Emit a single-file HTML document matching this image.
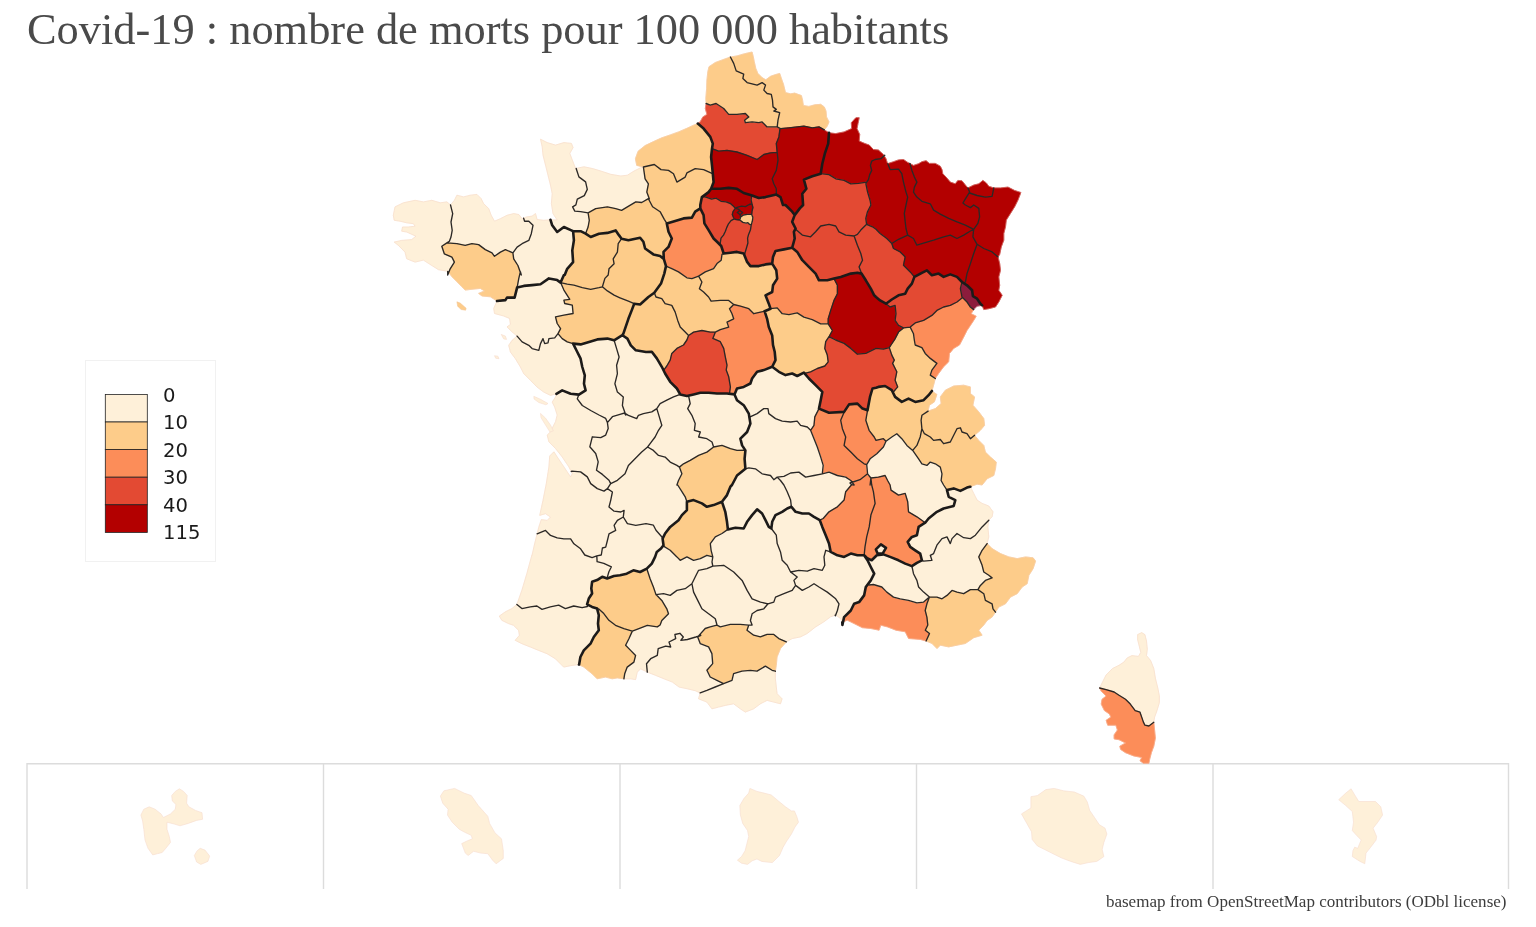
<!DOCTYPE html>
<html lang="fr"><head><meta charset="utf-8"><title>Covid-19 : nombre de morts pour 100 000 habitants</title>
<style>
html,body{margin:0;padding:0;background:#fff;}
body{width:1536px;height:927px;position:relative;overflow:hidden;font-family:"Liberation Serif",serif;}
h1{position:absolute;left:27px;top:4px;margin:0;font-weight:normal;font-size:44.4px;line-height:50px;color:#4a4a4a;white-space:nowrap;}
#map{position:absolute;left:0;top:0;}
.src{position:absolute;right:29.5px;top:892px;font-size:17.05px;line-height:20px;color:#3c3c3c;white-space:nowrap;}
</style></head><body>
<svg id="map" width="1536" height="927" viewBox="0 0 1536 927">
<g id="insets" fill="none" stroke="#dcdcdc" stroke-width="1.4">
<path d="M27,889V763.7H1508.5V889M323.5,763.7V889M620,763.7V889M916.5,763.7V889M1213,763.7V889"/>
</g>
<path d="M450.5,204.9 446.9,201.9 440.2,202.8 431.8,200.3 423.4,201.9 415.1,200.3 403.4,202.8 395.0,206.9 393.3,215.3 394.2,220.3 400.0,221.2 406.7,222.8 413.4,223.7 415.1,226.2 408.4,227.0 402.5,227.0 401.7,231.2 406.7,232.0 415.9,236.2 411.7,239.6 401.7,240.4 394.2,242.1 398.4,245.4 405.0,252.1 406.7,258.8 415.1,262.1 423.4,260.1 431.8,265.5 438.5,269.7 447.7,271.3 447.7,271.4 448.7,272.6 450.2,268.8 454.4,262.1 451.9,257.1 444.3,253.8 441.8,246.2 446.9,242.9 449.4,241.2 451.0,237.0 452.2,230.4 451.0,222.0 452.7,213.6Z" fill="#fef0d9" stroke="#fef0d9" stroke-width="0.8"/>
<path d="M523.6,218.1 522.1,218.7 518.8,214.5 513.7,213.6 507.0,215.3 500.4,218.7 494.5,221.2 491.2,215.3 488.7,208.6 483.6,203.6 481.1,198.6 476.9,194.4 470.3,195.2 463.6,196.9 456.9,195.2 454.4,200.3 450.5,204.9 452.7,213.6 451.0,222.0 452.2,230.4 451.0,237.0 449.4,241.2 446.9,242.9 456.9,243.7 465.2,245.4 471.9,243.7 478.6,244.6 485.3,249.6 492.0,252.9 494.5,256.3 500.4,252.1 505.4,249.6 512.9,252.9 517.1,247.1 522.1,243.7 528.8,240.4 531.3,233.7 533.0,225.3 528.8,221.2 524.6,221.2 523.8,218.7Z" fill="#fef0d9" stroke="#fef0d9" stroke-width="0.8"/>
<path d="M550.5,219.8 543.8,220.3 537.1,219.5 535.5,213.6 532.1,216.1 526.3,217.0 523.6,218.1 523.8,218.7 524.6,221.2 528.8,221.2 533.0,225.3 531.3,233.7 528.8,240.4 522.1,243.7 517.1,247.1 512.9,252.9 513.7,258.8 517.9,265.5 520.3,272.2 518.8,278.4 517.1,287.6 523.8,285.9 532.1,285.1 540.5,284.2 548.9,278.4 557.2,280.1 560.6,282.6 563.9,275.0 564.7,275.0 567.2,268.8 573.1,262.1 572.3,250.4 573.9,240.4 573.1,231.2 571.4,230.4 563.9,227.0 557.2,232.0 552.2,225.3Z" fill="#fef0d9" stroke="#fef0d9" stroke-width="0.8"/>
<path d="M576.2,168.4 575.6,168.5 572.3,160.1 569.8,153.4 573.1,147.6 571.4,143.4 563.9,142.6 555.5,145.1 547.2,142.6 540.5,139.2 542.2,146.8 543.0,155.1 545.5,165.1 548.0,175.2 550.5,185.2 552.2,193.6 551.4,203.6 553.0,213.6 557.2,220.0 550.5,219.8 552.2,225.3 557.2,232.0 563.9,227.0 571.4,230.4 573.1,231.2 580.6,231.2 585.5,233.6 585.6,233.4 588.1,227.0 589.3,220.3 588.1,212.8 580.6,211.6 574.8,211.1 572.6,206.9 575.9,204.9 577.3,199.1 584.3,195.6 587.3,189.4 585.6,181.9 578.9,176.9 576.4,169.3Z" fill="#fef0d9" stroke="#fef0d9" stroke-width="0.8"/>
<path d="M643.4,167.0 640.8,167.7 634.1,171.0 627.4,175.2 620.8,176.0 610.7,174.3 600.7,171.0 592.3,168.5 584.0,166.8 576.2,168.4 576.4,169.3 578.9,176.9 585.6,181.9 587.3,189.4 584.3,195.6 577.3,199.1 575.9,204.9 572.6,206.9 574.8,211.1 580.6,211.6 588.1,212.8 595.7,208.6 607.4,206.9 615.7,208.6 621.6,210.3 627.4,206.9 635.8,201.9 641.7,202.5 648.4,198.7 649.1,198.3 646.8,192.1 648.4,183.8 645.1,178.8Z" fill="#fef0d9" stroke="#fef0d9" stroke-width="0.8"/>
<path d="M697.8,123.6 693.6,125.2 686.9,128.3 678.5,131.9 670.2,134.9 661.8,137.8 653.4,141.6 645.1,145.6 638.1,151.2 635.4,158.7 636.7,165.4 643.4,167.0 654.3,164.5 661.0,169.6 668.5,170.4 673.5,173.7 676.9,182.1 685.2,177.1 686.9,172.9 695.2,168.7 703.6,169.6 712.5,173.7 712.8,173.7 712.0,165.4 711.1,157.0 712.0,148.7 712.8,143.6 710.3,136.9 703.6,128.6Z" fill="#fdcc8a" stroke="#fdcc8a" stroke-width="0.8"/>
<path d="M706.1,103.5 705.3,108.5 706.9,114.4 702.8,116.9 700.3,121.6 697.8,123.6 703.6,128.6 710.3,136.9 712.8,143.6 712.0,148.7 718.7,151.2 727.0,150.3 737.0,152.0 747.1,155.3 757.1,159.5 763.8,154.5 770.5,152.8 777.2,152.3 776.3,143.6 778.9,136.9 780.0,128.6 780.1,128.4 777.2,126.9 767.1,126.9 762.1,121.9 758.8,122.7 752.1,121.9 745.4,122.7 744.6,120.2 748.8,116.9 745.4,113.5 737.0,114.4 728.7,114.4 723.7,108.5 716.1,103.5 710.3,105.2Z" fill="#e34a33" stroke="#e34a33" stroke-width="0.8"/>
<path d="M730.4,57.0 722.8,59.7 715.3,62.5 709.0,66.7 707.8,71.7 706.9,80.1 706.6,88.5 705.8,98.5 706.1,103.5 710.3,105.2 716.1,103.5 723.7,108.5 728.7,114.4 737.0,114.4 745.4,113.5 748.8,116.9 744.6,120.2 745.4,122.7 752.1,121.9 758.8,122.7 762.1,121.9 767.1,126.9 777.2,126.9 778.0,120.2 779.7,112.7 773.8,111.0 776.3,109.4 773.0,106.9 772.5,100.2 771.3,94.3 767.1,93.5 763.8,90.1 765.5,85.1 762.1,82.6 757.1,85.1 747.1,82.6 742.9,78.4 743.7,74.2 736.2,70.9 733.7,63.4Z" fill="#fdcc8a" stroke="#fdcc8a" stroke-width="0.8"/>
<path d="M824.3,129.9 827.3,126.1 829.0,121.9 826.5,116.9 826.0,111.0 824.3,106.9 820.7,104.3 814.8,104.8 808.9,106.4 803.4,105.5 802.6,100.2 801.4,95.5 794.7,93.1 790.6,93.8 785.5,92.6 783.5,84.3 781.4,78.4 779.7,73.4 775.5,74.6 770.5,76.3 765.8,79.8 762.1,77.6 757.9,73.4 755.8,68.4 754.3,61.7 753.3,56.7 752.1,52.0 744.6,53.7 737.0,55.9 730.4,57.0 733.7,63.4 736.2,70.9 743.7,74.2 742.9,78.4 747.1,82.6 757.1,85.1 762.1,82.6 765.5,85.1 763.8,90.1 767.1,93.5 771.3,94.3 772.5,100.2 773.0,106.9 776.3,109.4 773.8,111.0 779.7,112.7 778.0,120.2 777.2,126.9 780.1,128.4 780.5,128.6 788.9,127.8 797.2,126.9 803.9,126.1 812.3,127.8 819.0,126.9Z" fill="#fdcc8a" stroke="#fdcc8a" stroke-width="0.8"/>
<path d="M829.0,132.8 824.3,129.9 819.0,126.9 812.3,127.8 803.9,126.1 797.2,126.9 788.9,127.8 780.5,128.6 780.1,128.4 780.0,128.6 778.9,136.9 776.3,143.6 777.2,152.3 778.0,160.4 776.3,170.4 772.2,178.8 773.8,183.8 776.3,188.8 776.3,194.1 776.3,194.6 780.5,197.1 783.0,205.0 785.5,205.0 792.2,211.7 794.7,215.1 799.8,208.4 803.1,205.0 802.3,193.8 806.4,188.8 803.9,179.6 812.3,176.2 820.7,173.7 822.3,163.7 824.8,153.7 828.2,143.6Z" fill="#b30000" stroke="#b30000" stroke-width="0.8"/>
<path d="M884.1,155.7 883.4,154.5 878.4,150.0 873.4,149.5 869.2,145.0 865.0,143.6 859.2,141.1 859.7,134.4 857.0,128.6 858.0,123.6 859.2,117.7 855.9,117.7 851.3,122.7 851.6,128.6 844.1,131.9 835.7,133.6 829.0,132.8 828.2,143.6 824.8,153.7 822.3,163.7 820.7,173.7 829.0,174.6 835.7,178.8 844.1,180.4 850.8,183.8 858.4,183.4 866.7,182.1 868.4,179.6 869.7,174.6 871.7,170.4 870.4,165.4 871.7,161.2 875.1,159.5 880.9,158.7 884.2,155.8Z" fill="#b30000" stroke="#b30000" stroke-width="0.8"/>
<path d="M887.8,163.6 887.6,163.7 886.0,158.7 884.2,155.8 880.9,158.7 875.1,159.5 871.7,161.2 870.4,165.4 871.7,170.4 869.7,174.6 868.4,179.6 866.7,182.1 865.9,183.8 867.6,192.1 870.1,200.5 870.9,205.0 867.5,211.7 865.8,218.4 866.6,224.3 867.6,224.3 867.4,224.7 867.4,224.7 872.5,226.8 876.0,229.3 880.1,233.5 886.8,238.5 891.8,243.5 898.5,239.3 907.7,235.1 906.0,228.5 905.2,221.8 904.3,213.4 906.0,205.0 907.7,197.1 906.0,192.1 903.5,182.1 901.8,173.7 898.5,169.1 890.1,169.6 888.1,164.5 887.8,163.6Z" fill="#b30000" stroke="#b30000" stroke-width="0.8"/>
<path d="M909.8,163.5 907.7,162.4 903.5,159.5 898.5,159.9 893.5,161.7 887.8,163.6 887.8,163.6 888.1,164.5 890.1,169.6 898.5,169.1 901.8,173.7 903.5,182.1 906.0,192.1 907.7,197.1 906.0,205.0 904.3,213.4 905.2,221.8 906.0,228.5 907.7,235.1 913.5,238.5 916.9,245.2 925.2,242.7 933.6,240.2 943.6,236.8 950.3,235.1 957.0,238.5 963.7,235.1 970.4,231.0 973.7,229.3 965.4,225.1 957.0,221.8 948.7,218.4 940.3,214.2 933.6,210.1 930.3,203.8 921.9,201.3 916.9,197.1 913.5,192.1 914.4,187.1 916.9,182.1 914.4,177.1 911.9,170.4 909.9,163.6Z" fill="#b30000" stroke="#b30000" stroke-width="0.8"/>
<path d="M967.9,187.9 965.4,185.1 962.0,180.8 957.9,180.4 955.3,183.8 950.3,182.1 946.1,177.1 942.8,173.7 942.0,169.6 940.3,166.2 935.3,163.4 929.4,163.4 926.1,160.7 921.9,161.7 918.6,163.7 913.5,165.4 909.9,163.6 911.9,170.4 914.4,177.1 916.9,182.1 914.4,187.1 913.5,192.1 916.9,197.1 921.9,201.3 930.3,203.8 933.6,210.1 940.3,214.2 948.7,218.4 957.0,221.8 965.4,225.1 973.7,229.3 977.9,223.4 979.6,216.8 978.8,208.4 973.7,205.0 970.4,207.6 965.4,205.0 962.9,203.0 965.4,198.8 969.2,192.7 969.6,192.1Z" fill="#b30000" stroke="#b30000" stroke-width="0.8"/>
<path d="M993.8,187.9 988.8,186.3 986.3,182.9 982.9,180.4 978.8,183.8 973.7,185.1 967.9,187.9 969.6,192.1 969.2,192.7 969.2,192.7 969.6,193.0 977.1,195.5 985.4,197.1 992.1,196.3Z" fill="#b30000" stroke="#b30000" stroke-width="0.8"/>
<path d="M998.0,256.9 999.7,254.4 1001.3,246.9 1003.8,240.2 1003.8,233.5 1005.5,226.8 1006.3,220.1 1010.5,213.4 1014.7,206.7 1018.0,200.0 1020.9,192.5 1014.7,190.5 1008.0,187.1 1000.5,187.9 993.8,187.9 992.1,196.3 985.4,197.1 977.1,195.5 969.6,193.0 969.2,192.7 969.2,192.7 965.4,198.8 962.9,203.0 965.4,205.0 970.4,207.6 973.7,205.0 978.8,208.4 979.6,216.8 977.9,223.4 973.7,229.3 972.9,236.8 977.1,244.3 983.8,248.5 992.1,251.9Z" fill="#b30000" stroke="#b30000" stroke-width="0.8"/>
<path d="M982.1,305.4 983.8,309.6 988.8,308.7 995.5,307.0 998.8,302.0 1002.2,295.3 998.8,290.3 999.7,285.3 998.8,276.9 1000.5,270.3 999.7,263.6 998.0,256.9 992.1,251.9 983.8,248.5 977.1,244.3 973.7,253.5 970.4,263.6 967.0,273.6 965.4,282.0 963.7,283.1 963.7,283.1 967.0,285.3 972.1,290.3 972.9,296.2 977.1,298.7 980.4,303.7Z" fill="#b30000" stroke="#b30000" stroke-width="0.8"/>
<path d="M973.7,309.6 977.1,306.2 982.1,305.4 980.4,303.7 977.1,298.7 972.9,296.2 972.1,290.3 967.0,285.3 963.7,283.1 962.0,282.0 960.4,288.7 962.0,297.0 962.5,297.4 967.0,302.0 970.4,307.0Z" fill="#8c1c3c" stroke="#8c1c3c" stroke-width="0.8"/>
<path d="M935.3,378.5 938.6,373.5 943.6,366.8 948.7,361.8 949.5,353.4 953.7,348.4 959.5,345.0 963.7,337.1 967.0,330.5 970.4,325.4 973.7,320.4 976.2,316.2 971.2,313.7 973.7,309.6 970.4,307.0 967.0,302.0 962.5,297.4 962.0,297.9 957.0,302.0 950.3,305.4 943.6,307.0 936.9,310.4 931.9,315.4 923.6,320.4 915.2,322.9 910.2,327.1 913.5,333.8 914.4,340.5 915.2,345.0 921.9,347.6 925.2,353.4 930.3,358.4 936.9,363.4 931.9,370.1 930.3,375.1Z" fill="#fc8d59" stroke="#fc8d59" stroke-width="0.8"/>
<path d="M931.9,391.0 933.6,385.2 935.3,378.5 930.3,375.1 931.9,370.1 936.9,363.4 930.3,358.4 925.2,353.4 921.9,347.6 915.2,345.0 914.4,340.5 913.5,333.8 910.2,327.1 903.5,327.9 898.5,332.1 895.1,338.8 891.0,345.0 889.3,347.6 891.8,355.1 894.3,360.1 892.6,363.4 896.8,371.8 895.1,380.2 897.7,386.9 893.8,391.5 892.7,392.0 895.1,396.9 901.8,401.9 908.5,398.6 915.2,401.9 923.6,400.2 928.6,395.2Z" fill="#fdcc8a" stroke="#fdcc8a" stroke-width="0.8"/>
<path d="M928.1,411.1 929.4,405.2 934.4,401.9 936.9,394.4 931.9,391.0 928.6,395.2 923.6,400.2 915.2,401.9 908.5,398.6 901.8,401.9 895.1,396.9 892.7,392.0 891.8,390.2 885.1,386.0 878.4,386.9 876.0,387.7 872.5,388.5 870.0,396.9 867.5,410.3 867.5,410.6 865.8,420.3 869.1,430.3 874.2,437.0 876.0,440.4 883.4,438.7 886.0,441.2 891.8,437.0 896.8,433.7 901.8,438.7 906.9,445.4 912.7,450.4 916.9,445.4 920.2,437.0 921.9,428.7 921.1,420.3 921.9,415.3Z" fill="#fdcc8a" stroke="#fdcc8a" stroke-width="0.8"/>
<path d="M974.6,435.3 980.4,430.3 984.6,425.3 983.8,418.6 978.8,411.9 972.9,405.2 974.6,396.9 970.4,393.5 970.4,386.9 963.7,385.2 953.7,386.0 945.3,390.2 940.3,396.9 941.1,403.6 935.3,408.6 928.1,411.1 921.9,415.3 921.1,420.3 921.9,428.7 924.4,433.7 930.3,437.0 933.6,440.4 940.3,439.5 943.6,443.7 950.3,442.0 953.7,435.3 957.0,428.7 960.4,427.8 962.0,432.0 967.0,433.7 970.4,438.7Z" fill="#fdcc8a" stroke="#fdcc8a" stroke-width="0.8"/>
<path d="M970.4,486.7 977.1,484.2 982.1,485.0 987.1,478.8 993.8,475.5 995.5,468.8 996.3,462.1 990.5,457.1 985.4,452.1 983.8,445.4 978.8,440.4 974.6,435.3 970.4,438.7 967.0,433.7 962.0,432.0 960.4,427.8 957.0,428.7 953.7,435.3 950.3,442.0 943.6,443.7 940.3,439.5 933.6,440.4 930.3,437.0 924.4,433.7 921.9,428.7 920.2,437.0 916.9,445.4 912.7,450.4 918.6,458.8 921.9,463.8 926.9,465.4 930.3,462.1 935.3,463.8 940.3,467.1 942.0,473.8 941.1,480.5 943.6,485.0 947.0,490.1 953.7,488.4 960.4,490.9 967.0,487.6 970.1,486.7Z" fill="#fdcc8a" stroke="#fdcc8a" stroke-width="0.8"/>
<path d="M988.8,520.2 992.1,516.8 993.0,511.8 988.8,506.0 982.1,503.4 977.1,500.1 973.7,493.4 970.4,486.7 970.1,486.7 967.0,487.6 960.4,490.9 953.7,488.4 947.0,490.1 948.7,496.8 955.3,500.1 953.7,506.0 943.6,508.5 936.9,511.8 928.6,518.5 925.2,522.7 918.6,526.9 916.9,535.2 911.9,536.9 907.7,541.9 910.2,546.9 915.2,550.3 920.2,553.6 921.9,560.3 923.6,561.1 931.9,560.3 930.3,555.3 933.6,553.6 936.9,545.2 942.0,538.6 947.0,536.9 950.3,543.6 952.0,538.6 957.0,533.5 963.7,537.7 970.4,538.6 975.4,535.2 982.1,526.9Z" fill="#fef0d9" stroke="#fef0d9" stroke-width="0.8"/>
<path d="M987.1,543.6 988.8,536.9 987.9,526.9 988.8,520.2 982.1,526.9 975.4,535.2 970.4,538.6 963.7,537.7 957.0,533.5 952.0,538.6 950.3,543.6 947.0,536.9 942.0,538.6 936.9,545.2 933.6,553.6 930.3,555.3 931.9,560.3 923.6,561.1 921.9,560.3 916.9,562.8 911.9,566.1 913.5,573.7 916.9,580.4 918.6,587.0 923.6,592.1 929.4,597.1 936.9,597.1 942.0,598.8 947.0,595.4 952.0,590.4 957.0,592.1 963.7,593.7 970.4,589.6 977.9,589.6 980.4,585.4 985.4,580.4 992.1,577.9 988.8,575.3 983.8,572.0 982.1,565.3 978.8,556.9 982.1,550.3Z" fill="#fef0d9" stroke="#fef0d9" stroke-width="0.8"/>
<path d="M995.5,612.1 998.8,607.1 1005.5,603.8 1010.5,597.1 1017.2,593.7 1022.2,587.0 1027.2,583.7 1028.9,575.3 1033.1,568.7 1035.6,561.1 1033.1,557.8 1025.6,556.9 1017.2,558.6 1008.9,556.9 1000.5,553.6 992.1,548.6 987.1,543.6 982.1,550.3 978.8,556.9 982.1,565.3 983.8,572.0 988.8,575.3 992.1,577.9 985.4,580.4 980.4,585.4 977.9,589.6 983.8,593.7 985.4,600.4 992.1,603.8 993.0,608.8Z" fill="#fdcc8a" stroke="#fdcc8a" stroke-width="0.8"/>
<path d="M926.1,641.0 932.0,643.5 937.0,648.6 940.3,645.2 948.7,646.9 957.0,645.2 965.4,643.5 973.8,637.7 982.1,635.2 978.8,630.2 983.8,625.0 987.1,620.5 992.1,617.1 995.5,612.1 993.0,608.8 992.1,603.8 985.4,600.4 983.8,593.7 977.9,589.6 970.4,589.6 963.7,593.7 957.0,592.1 952.0,590.4 947.0,595.4 942.0,598.8 936.9,597.1 929.4,597.1 926.9,603.8 925.2,610.5 926.9,617.1 927.8,625.0 925.3,630.2 929.5,633.5Z" fill="#fdcc8a" stroke="#fdcc8a" stroke-width="0.8"/>
<path d="M843.1,621.9 847.3,620.2 854.0,623.5 862.4,627.7 870.8,628.5 879.1,630.2 880.8,625.2 887.5,626.9 896.0,630.2 905.2,631.8 908.6,638.5 920.3,639.4 926.1,641.0 929.5,633.5 925.3,630.2 927.8,625.0 926.9,617.1 925.2,610.5 926.9,603.8 929.4,597.1 923.6,602.1 916.9,602.9 908.5,600.4 900.2,598.8 893.5,597.1 886.8,592.1 881.8,587.0 873.4,584.5 869.2,585.0 868.0,584.1 865.8,587.0 864.1,595.4 859.1,602.1 854.1,603.8 850.8,610.5 844.1,617.1Z" fill="#fc8d59" stroke="#fc8d59" stroke-width="0.8"/>
<path d="M842.3,622.2 843.1,621.9 844.1,617.1 850.8,610.5 854.1,603.8 859.1,602.1 864.1,595.4 865.8,587.0 868.0,584.1 870.8,580.4 874.2,573.7 870.8,567.0 867.5,560.3 864.1,555.3 857.4,555.3 850.8,553.6 844.1,556.9 837.4,555.3 830.7,551.9 825.7,550.3 824.0,556.9 824.8,565.3 822.3,570.3 814.0,568.7 807.3,571.2 798.9,570.3 790.6,572.0 797.2,577.0 793.9,580.4 795.6,585.4 802.3,590.4 808.9,587.0 814.0,583.7 819.0,587.0 827.3,592.1 835.7,598.8 839.0,603.8 837.4,610.5 835.7,615.1 840.7,618.5Z" fill="#fef0d9" stroke="#fef0d9" stroke-width="0.8"/>
<path d="M835.2,615.2 835.6,615.1 835.7,615.1 837.4,610.5 839.0,603.8 835.7,598.8 827.3,592.1 819.0,587.0 814.0,583.7 808.9,587.0 802.3,590.4 795.6,585.4 792.2,590.4 783.9,593.7 775.5,597.1 773.8,602.1 768.0,603.8 763.8,608.8 757.1,610.5 752.1,613.8 750.4,620.5 752.1,625.0 748.7,625.2 747.0,630.2 753.7,635.2 760.4,636.9 767.1,634.4 773.8,634.4 778.8,638.6 786.3,641.9 792.2,638.6 800.5,636.9 807.2,633.5 815.6,626.9 823.9,621.8 830.6,616.8Z" fill="#fef0d9" stroke="#fef0d9" stroke-width="0.8"/>
<path d="M775.4,671.2 776.3,665.3 777.1,656.9 780.5,648.6 786.3,641.9 778.8,638.6 773.8,634.4 767.1,634.4 760.4,636.9 753.7,635.2 747.0,630.2 748.7,625.2 740.3,624.3 730.3,624.3 720.3,626.9 716.9,625.2 710.2,626.9 705.2,628.5 698.4,636.1 700.8,635.3 697.7,636.9 700.2,643.6 708.6,646.9 711.9,653.6 712.7,663.6 706.9,670.3 710.2,677.0 716.9,680.4 723.6,683.7 732.0,680.4 733.6,673.7 742.0,671.2 750.4,670.3 757.0,671.2 765.4,666.1 772.1,670.3Z" fill="#fdcc8a" stroke="#fdcc8a" stroke-width="0.8"/>
<path d="M700.2,692.9 698.5,698.8 706.9,702.1 711.9,708.8 718.6,707.1 725.3,705.4 733.6,703.8 740.3,708.8 745.3,712.1 753.7,708.8 760.4,703.8 767.1,700.4 773.8,702.1 780.5,703.8 782.1,698.8 777.1,693.7 776.3,687.0 775.4,678.7 775.4,671.2 772.1,670.3 765.4,666.1 757.0,671.2 750.4,670.3 742.0,671.2 733.6,673.7 732.0,680.4 723.6,683.7 715.2,687.0 706.9,690.4Z" fill="#fef0d9" stroke="#fef0d9" stroke-width="0.8"/>
<path d="M647.3,672.1 655.7,675.4 664.0,678.8 672.4,682.1 679.1,687.1 687.4,688.8 695.2,690.7 700.2,692.9 706.9,690.4 715.2,687.0 723.6,683.7 716.9,680.4 710.2,677.0 706.9,670.3 712.7,663.6 711.9,653.6 708.6,646.9 700.2,643.6 697.7,636.9 697.5,636.4 695.8,637.0 687.4,639.5 680.8,640.3 683.3,637.0 679.9,633.3 674.9,634.5 675.7,638.7 669.0,642.0 670.7,647.0 665.7,646.2 658.2,648.7 657.3,655.4 650.7,658.7 646.5,663.7Z" fill="#fef0d9" stroke="#fef0d9" stroke-width="0.8"/>
<path d="M623.9,678.8 630.6,678.8 635.6,679.6 637.3,672.1 640.6,668.8 647.3,672.1 646.5,663.7 650.7,658.7 657.3,655.4 658.2,648.7 665.7,646.2 670.7,647.0 669.0,642.0 675.7,638.7 674.9,634.5 679.9,633.3 683.3,637.0 680.8,640.3 687.4,639.5 695.8,637.0 697.5,636.4 698.4,636.1 705.2,628.5 710.2,626.9 716.9,625.2 717.0,625.0 715.3,618.8 708.6,613.8 701.9,608.8 698.6,602.1 693.6,592.1 691.9,583.7 685.2,588.7 676.9,590.4 670.2,595.4 663.5,593.7 656.0,594.6 661.8,600.4 666.8,608.8 668.5,613.8 661.8,620.5 660.1,625.0 657.3,626.9 647.3,625.3 638.9,628.6 632.3,631.1 628.9,638.7 625.6,645.3 630.6,650.4 635.6,655.4 633.9,662.1 627.2,667.1 624.7,673.8Z" fill="#fef0d9" stroke="#fef0d9" stroke-width="0.8"/>
<path d="M579.0,664.7 583.8,667.1 592.1,673.8 597.1,678.8 605.5,677.1 612.2,678.8 617.2,677.9 623.9,678.8 624.7,673.8 627.2,667.1 633.9,662.1 635.6,655.4 630.6,650.4 625.6,645.3 628.9,638.7 632.3,631.1 623.9,628.6 615.5,625.3 608.9,620.3 603.8,613.6 598.8,608.9 597.3,609.3 598.8,615.2 598.0,623.6 598.8,630.3 593.8,637.0 590.5,643.7 583.8,650.4 580.4,657.0 579.1,664.6Z" fill="#fdcc8a" stroke="#fdcc8a" stroke-width="0.8"/>
<path d="M516.9,604.4 511.9,608.6 505.2,611.9 499.3,616.1 501.8,620.3 508.5,623.6 513.5,625.3 518.6,630.3 519.4,635.3 515.2,640.3 521.9,643.7 530.3,647.0 538.6,650.4 547.0,653.7 555.3,658.7 563.7,667.1 572.1,665.4 578.8,664.6 579.0,664.7 579.1,664.6 580.4,657.0 583.8,650.4 590.5,643.7 593.8,637.0 598.8,630.3 598.0,623.6 598.8,615.2 597.3,609.3 597.1,608.6 592.1,606.9 588.2,604.9 587.4,606.5 582.1,607.7 573.7,606.0 565.4,608.6 558.7,605.2 550.3,606.9 542.0,609.4 536.9,606.0 530.3,606.9 521.9,608.6Z" fill="#fef0d9" stroke="#fef0d9" stroke-width="0.8"/>
<path d="M537.1,533.8 534.6,543.8 532.1,555.0 531.9,555.0 526.9,573.4 521.9,590.2 516.9,604.4 521.9,608.6 530.3,606.9 536.9,606.0 542.0,609.4 550.3,606.9 558.7,605.2 565.4,608.6 573.7,606.0 582.1,607.7 587.4,606.5 588.2,604.9 587.1,604.4 588.8,598.5 592.1,593.5 591.3,588.5 592.1,581.8 597.1,580.1 602.2,576.8 607.2,578.5 607.5,578.4 607.2,577.6 608.9,571.8 611.4,566.8 603.8,563.4 597.1,561.7 596.8,555.9 592.1,557.6 584.8,555.0 580.6,548.8 573.9,543.8 570.6,538.8 563.9,538.8 557.2,537.9 550.5,535.4 545.5,530.4Z" fill="#fef0d9" stroke="#fef0d9" stroke-width="0.8"/>
<path d="M571.2,471.5 572.3,473.6 570.6,476.9 563.9,466.9 557.2,456.9 553.9,451.8 549.7,456.0 548.9,466.9 546.3,483.6 543.0,500.3 539.7,515.4 545.5,513.7 550.5,517.0 547.2,520.4 541.3,519.6 538.8,527.1 537.1,533.8 545.5,530.4 550.5,535.4 557.2,537.9 563.9,538.8 570.6,538.8 573.9,543.8 580.6,548.8 584.8,555.0 592.1,557.6 596.8,555.9 601.3,555.0 602.4,548.0 605.7,547.1 607.4,540.5 609.0,533.8 615.7,530.4 614.1,525.4 617.4,520.4 623.3,517.0 624.1,510.4 620.8,512.0 614.1,511.2 609.0,507.0 610.7,500.3 612.4,492.0 607.4,488.6 604.0,491.1 597.3,488.6 590.7,483.6 587.3,476.9 580.6,471.9 571.9,471.1Z" fill="#fef0d9" stroke="#fef0d9" stroke-width="0.8"/>
<path d="M556.4,393.8 555.5,397.1 552.2,402.1 554.7,407.1 557.2,415.0 555.5,421.7 550.5,431.8 547.2,435.1 548.9,441.8 555.5,448.5 562.2,456.9 568.9,466.9 571.2,471.5 571.9,471.1 580.6,471.9 587.3,476.9 590.7,483.6 597.3,488.6 604.0,491.1 607.4,488.6 610.7,483.6 609.0,480.3 602.4,474.4 596.5,470.2 598.2,461.9 595.7,453.5 589.8,446.8 592.3,436.8 600.7,437.6 605.7,435.1 608.2,428.4 607.4,422.6 605.7,418.4 599.0,415.0 590.7,410.5 582.3,405.5 577.3,398.8 578.9,394.6 570.6,393.8 562.2,390.4Z" fill="#fef0d9" stroke="#fef0d9" stroke-width="0.8"/>
<path d="M517.1,336.1 512.1,340.3 508.7,345.3 510.4,352.0 515.4,358.7 520.4,367.0 523.8,373.7 530.5,380.4 537.1,387.1 543.8,392.1 550.5,395.4 556.4,393.8 562.2,390.4 570.6,393.8 578.9,394.6 585.6,390.4 584.0,383.7 584.8,375.4 582.3,367.0 580.6,358.7 576.4,350.3 573.1,343.6 567.2,341.9 562.2,338.6 558.0,333.6 554.7,337.8 548.9,338.6 548.0,342.8 544.7,343.6 543.0,338.6 540.5,343.6 538.8,350.3 532.1,348.6 528.8,345.3 522.1,341.9Z" fill="#fef0d9" stroke="#fef0d9" stroke-width="0.8"/>
<path d="M497.0,301.0 493.7,308.5 494.5,313.5 503.7,316.0 509.6,318.5 510.4,324.4 507.0,326.9 512.1,331.9 517.1,336.1 522.1,341.9 528.8,345.3 532.1,348.6 538.8,350.3 540.5,343.6 543.0,338.6 544.7,343.6 548.0,342.8 548.9,338.6 554.7,337.8 558.0,333.6 560.6,328.6 557.2,323.5 555.5,316.9 563.9,315.2 573.1,313.5 572.3,305.1 564.7,303.5 563.9,300.1 569.8,299.3 563.9,290.1 560.6,282.6 557.2,280.1 548.9,278.4 540.5,284.2 532.1,285.1 523.8,285.9 517.1,287.6 514.6,297.6 507.0,297.6 505.4,300.1Z" fill="#fef0d9" stroke="#fef0d9" stroke-width="0.8"/>
<path d="M448.7,272.6 451.9,276.7 456.9,281.7 461.9,286.8 465.2,290.1 471.9,289.3 480.3,288.4 484.5,290.9 478.6,293.4 482.0,296.0 490.3,296.8 497.0,301.0 505.4,300.1 507.0,297.6 514.6,297.6 517.1,287.6 518.8,278.4 520.3,272.2 517.9,265.5 513.7,258.8 512.9,252.9 505.4,249.6 500.4,252.1 494.5,256.3 492.0,252.9 485.3,249.6 478.6,244.6 471.9,243.7 465.2,245.4 456.9,243.7 446.9,242.9 441.8,246.2 444.3,253.8 451.9,257.1 454.4,262.1 450.2,268.8Z" fill="#fdcc8a" stroke="#fdcc8a" stroke-width="0.8"/>
<path d="M776.3,194.6 776.3,194.1 776.3,188.8 773.8,183.8 772.2,178.8 776.3,170.4 778.0,160.4 777.2,152.3 770.5,152.8 763.8,154.5 757.1,159.5 747.1,155.3 737.0,152.0 727.0,150.3 718.7,151.2 712.0,148.7 711.1,157.0 712.0,165.4 712.8,173.7 712.8,173.7 713.6,182.1 711.1,188.8 720.3,188.8 728.7,187.9 737.0,188.8 743.7,193.0 751.8,195.4 752.1,195.5 758.8,198.0 765.5,197.1Z" fill="#b30000" stroke="#b30000" stroke-width="0.8"/>
<path d="M712.8,173.7 712.5,173.7 703.6,169.6 695.2,168.7 686.9,172.9 685.2,177.1 676.9,182.1 673.5,173.7 668.5,170.4 661.0,169.6 654.3,164.5 643.4,167.0 645.1,178.8 648.4,183.8 646.8,192.1 649.1,198.3 649.3,198.8 648.4,198.7 652.6,206.7 660.1,211.7 664.3,219.3 666.8,223.4 675.2,220.9 683.5,218.4 691.9,217.6 695.2,211.7 700.3,208.4 700.3,205.0 701.9,197.1 703.2,196.2 708.6,192.1 711.1,188.8 713.6,182.1 712.8,173.7Z" fill="#fdcc8a" stroke="#fdcc8a" stroke-width="0.8"/>
<path d="M711.1,188.8 708.6,192.1 703.2,196.2 703.5,196.6 706.6,197.4 711.6,199.1 716.0,198.1 721.0,201.3 726.0,201.9 730.4,203.5 733.5,206.3 735.4,208.2 735.8,207.6 736.0,208.0 738.6,206.8 741.7,206.2 745.4,206.6 749.2,204.5 752.0,203.8 751.1,200.0 751.7,195.6 751.8,195.4 743.7,193.0 737.0,188.8 728.7,187.9 720.3,188.8Z" fill="#b30000" stroke="#b30000" stroke-width="0.8"/>
<path d="M703.2,196.2 701.9,197.1 700.3,205.0 700.3,208.4 703.6,215.1 704.4,223.4 708.6,230.1 713.6,238.5 717.0,241.8 719.6,244.4 720.1,243.8 721.0,238.2 723.5,235.1 725.4,231.3 726.7,227.6 728.5,223.8 731.0,220.7 734.2,218.8 733.5,217.5 732.3,214.4 733.2,211.3 735.4,208.2 733.5,206.3 730.4,203.5 726.0,201.9 721.0,201.3 716.0,198.1 711.6,199.1 706.6,197.4 703.5,196.6Z" fill="#e34a33" stroke="#e34a33" stroke-width="0.8"/>
<path d="M776.3,194.6 765.5,197.1 758.8,198.0 752.1,195.5 751.8,195.4 751.7,195.6 751.1,200.0 752.0,203.8 752.9,207.5 752.0,211.3 751.7,214.4 752.9,217.5 752.3,221.3 751.2,225.1 750.4,230.1 748.6,234.4 747.6,238.2 747.9,243.0 744.6,254.4 744.1,254.6 747.1,261.9 750.4,266.1 758.8,266.1 765.5,264.4 772.2,263.6 773.0,256.9 775.5,251.0 783.9,249.4 792.2,247.7 794.7,238.5 793.9,231.8 795.3,229.1 795.6,228.5 792.2,221.8 794.7,215.1 792.2,211.7 785.5,205.0 783.0,205.0 780.5,197.1Z" fill="#e34a33" stroke="#e34a33" stroke-width="0.8"/>
<path d="M820.7,173.7 812.3,176.2 803.9,179.6 806.4,188.8 802.3,193.8 803.1,205.0 799.8,208.4 794.7,215.1 792.2,221.8 795.6,228.5 795.3,229.1 795.6,229.3 802.3,235.1 810.6,236.8 815.6,231.8 820.7,226.0 829.0,224.3 835.7,226.0 839.0,231.8 845.7,235.1 854.1,236.0 857.4,234.3 860.8,230.1 866.6,224.3 865.8,218.4 867.5,211.7 870.9,205.0 870.1,200.5 867.6,192.1 865.9,183.8 866.7,182.1 858.4,183.4 850.8,183.8 844.1,180.4 835.7,178.8 829.0,174.6Z" fill="#e34a33" stroke="#e34a33" stroke-width="0.8"/>
<path d="M573.1,231.2 573.9,240.4 572.3,250.4 573.1,262.1 567.2,268.8 564.7,275.0 563.9,275.0 560.6,282.6 567.2,284.2 573.9,285.1 582.3,287.6 590.7,289.3 599.0,287.6 602.4,286.8 604.9,278.4 608.2,275.0 609.0,268.8 614.1,263.8 613.2,258.8 617.4,252.1 618.2,243.7 621.6,238.7 619.1,235.4 615.7,230.4 607.4,232.9 599.0,233.7 590.7,237.0 585.6,233.7 585.5,233.6 580.6,231.2Z" fill="#fdcc8a" stroke="#fdcc8a" stroke-width="0.8"/>
<path d="M585.5,233.6 585.6,233.7 590.7,237.0 599.0,233.7 607.4,232.9 615.7,230.4 619.1,235.4 621.6,238.7 628.4,240.2 640.1,237.7 643.4,241.8 645.1,248.5 653.4,254.4 660.1,256.0 663.8,258.9 663.5,251.9 668.5,246.9 671.8,238.5 668.5,231.8 666.8,223.4 664.3,219.3 660.1,211.7 652.6,206.7 648.4,198.7 641.7,202.5 635.8,201.9 627.4,206.9 621.6,210.3 615.7,208.6 607.4,206.9 595.7,208.6 588.1,212.8 589.3,220.3 588.1,227.0 585.6,233.4Z" fill="#fdcc8a" stroke="#fdcc8a" stroke-width="0.8"/>
<path d="M663.8,258.9 660.1,256.0 653.4,254.4 645.1,248.5 643.4,241.8 640.1,237.7 628.4,240.2 621.6,238.7 618.2,243.7 617.4,252.1 613.2,258.8 614.1,263.8 609.0,268.8 608.2,275.0 604.9,278.4 602.4,286.8 607.4,290.9 614.1,295.1 619.9,297.8 620.0,297.9 628.4,301.2 634.2,303.7 640.1,304.5 648.4,297.0 654.3,292.8 661.0,283.6 664.3,273.6 666.0,266.1Z" fill="#fdcc8a" stroke="#fdcc8a" stroke-width="0.8"/>
<path d="M666.8,223.4 668.5,231.8 671.8,238.5 668.5,246.9 663.5,251.9 663.8,258.9 666.0,266.1 671.8,268.6 678.5,271.9 686.9,277.8 691.9,278.6 698.6,276.1 705.3,271.9 713.6,268.6 717.0,263.6 721.2,260.2 722.0,254.4 723.7,253.5 721.2,246.0 719.6,244.4 717.0,241.8 713.6,238.5 708.6,230.1 704.4,223.4 703.6,215.1 700.3,208.4 695.2,211.7 691.9,217.6 683.5,218.4 675.2,220.9Z" fill="#fc8d59" stroke="#fc8d59" stroke-width="0.8"/>
<path d="M719.6,244.4 721.2,246.0 723.7,253.5 730.4,252.7 737.0,251.9 743.7,253.5 744.1,254.6 744.6,254.4 747.9,243.0 747.6,238.2 748.6,234.4 750.4,230.1 751.2,225.1 749.2,224.1 747.9,222.7 746.1,223.2 742.9,222.4 739.8,220.0 736.1,219.5 734.2,218.8 731.0,220.7 728.5,223.8 726.7,227.6 725.4,231.3 723.5,235.1 721.0,238.2 720.1,243.8Z" fill="#e34a33" stroke="#e34a33" stroke-width="0.8"/>
<path d="M744.1,254.6 743.7,253.5 737.0,251.9 730.4,252.7 723.7,253.5 722.0,254.4 721.2,260.2 717.0,263.6 713.6,268.6 705.3,271.9 698.6,276.1 701.9,282.0 699.4,288.7 703.6,292.0 708.6,297.0 711.1,301.2 720.3,300.4 728.7,300.4 733.7,304.5 740.4,306.2 748.8,308.7 753.8,313.7 760.5,312.1 764.6,311.2 770.5,308.7 768.8,303.7 765.5,295.3 772.2,292.0 773.0,285.3 777.2,278.6 776.3,270.3 772.2,263.6 765.5,264.4 758.8,266.1 750.4,266.1 747.1,261.9Z" fill="#fdcc8a" stroke="#fdcc8a" stroke-width="0.8"/>
<path d="M792.2,247.7 783.9,249.4 775.5,251.0 773.0,256.9 772.2,263.6 776.3,270.3 777.2,278.6 773.0,285.3 772.2,292.0 765.5,295.3 768.8,303.7 770.5,308.7 777.2,307.9 782.2,313.7 788.9,314.6 797.2,312.9 803.9,317.1 812.3,319.6 820.7,323.8 828.2,323.8 828.2,318.8 830.7,310.4 834.0,300.4 837.4,293.7 837.4,285.3 834.0,278.6 827.3,280.3 819.0,280.3 815.6,273.6 808.9,266.9 802.3,260.2 797.2,251.9Z" fill="#fc8d59" stroke="#fc8d59" stroke-width="0.8"/>
<path d="M795.3,229.1 793.9,231.8 794.7,238.5 792.2,247.7 797.2,251.9 802.3,260.2 808.9,266.9 815.6,273.6 819.0,280.3 827.3,280.3 834.0,278.6 840.7,276.9 850.8,273.6 857.4,272.8 861.6,273.6 859.1,266.9 862.5,260.2 860.8,253.5 857.4,245.2 854.1,236.0 845.7,235.1 839.0,231.8 835.7,226.0 829.0,224.3 820.7,226.0 815.6,231.8 810.6,236.8 802.3,235.1 795.6,229.3Z" fill="#e34a33" stroke="#e34a33" stroke-width="0.8"/>
<path d="M770.5,308.7 764.6,311.2 767.1,318.8 768.8,327.1 772.2,335.5 773.0,345.0 774.7,351.7 775.5,360.1 772.2,366.8 778.9,371.8 785.5,375.1 792.2,373.5 797.2,376.0 803.9,372.6 804.9,373.7 805.6,373.1 810.6,371.8 817.3,368.5 824.8,366.0 828.2,361.8 827.3,355.1 824.8,348.4 825.7,341.7 829.0,336.7 832.4,330.5 828.2,323.8 820.7,323.8 812.3,319.6 803.9,317.1 797.2,312.9 788.9,314.6 782.2,313.7 777.2,307.9Z" fill="#fdcc8a" stroke="#fdcc8a" stroke-width="0.8"/>
<path d="M772.2,366.8 775.5,360.1 774.7,351.7 773.0,345.0 772.2,335.5 768.8,327.1 767.1,318.8 764.6,311.2 760.5,312.1 753.8,313.7 748.8,308.7 740.4,306.2 733.7,304.5 729.5,308.7 732.0,313.7 733.7,318.8 727.0,322.1 728.7,327.1 720.3,329.6 715.3,332.1 715.3,332.2 712.8,338.4 720.3,341.7 723.7,348.4 725.3,356.8 727.0,365.1 726.2,370.1 728.7,376.8 730.4,386.9 729.5,393.5 729.5,393.8 734.5,394.4 737.0,388.5 743.7,386.9 750.4,383.5 752.1,378.5 757.1,371.8 763.8,370.1Z" fill="#fc8d59" stroke="#fc8d59" stroke-width="0.8"/>
<path d="M861.6,273.6 857.4,272.8 850.8,273.6 840.7,276.9 834.0,278.6 837.4,285.3 837.4,293.7 834.0,300.4 830.7,310.4 828.2,318.8 828.2,323.8 832.4,330.5 829.0,336.7 835.7,340.0 844.1,343.4 850.8,348.4 857.4,354.2 865.8,353.4 876.0,348.4 883.4,349.2 889.3,347.6 891.0,345.0 895.1,338.8 898.5,332.1 903.5,327.9 898.5,325.4 895.1,320.4 896.0,313.7 895.1,305.4 890.1,307.0 886.0,303.7 880.1,300.4 876.0,297.0 874.2,295.3 870.8,288.7 865.8,280.3Z" fill="#b30000" stroke="#b30000" stroke-width="0.8"/>
<path d="M861.6,273.6 865.8,280.3 870.8,288.7 874.2,295.3 876.0,297.0 880.1,300.4 886.0,303.7 891.8,299.5 898.5,295.3 905.2,293.7 907.7,288.7 911.9,283.6 914.4,276.9 910.2,271.9 903.5,265.2 905.2,256.9 900.2,251.9 893.5,248.5 891.8,243.5 886.8,238.5 880.1,233.5 876.0,229.3 872.5,226.8 867.4,224.7 866.6,224.3 860.8,230.1 857.4,234.3 854.1,236.0 857.4,245.2 860.8,253.5 862.5,260.2 859.1,266.9Z" fill="#e34a33" stroke="#e34a33" stroke-width="0.8"/>
<path d="M914.4,276.9 911.9,283.6 907.7,288.7 905.2,293.7 898.5,295.3 891.8,299.5 886.0,303.7 890.1,307.0 895.1,305.4 896.0,313.7 895.1,320.4 898.5,325.4 903.5,327.9 910.2,327.1 915.2,322.9 923.6,320.4 931.9,315.4 936.9,310.4 943.6,307.0 950.3,305.4 957.0,302.0 962.0,297.9 962.5,297.4 962.0,297.0 960.4,288.7 962.0,282.0 957.0,276.9 950.3,274.4 943.6,276.9 938.6,273.6 931.9,275.3 926.9,270.3 921.9,272.8Z" fill="#e34a33" stroke="#e34a33" stroke-width="0.8"/>
<path d="M914.4,276.9 921.9,272.8 926.9,270.3 931.9,275.3 938.6,273.6 943.6,276.9 950.3,274.4 957.0,276.9 962.0,282.0 963.7,283.1 963.7,283.1 965.4,282.0 967.0,273.6 970.4,263.6 973.7,253.5 977.1,244.3 972.9,236.8 973.7,229.3 970.4,231.0 963.7,235.1 957.0,238.5 950.3,235.1 943.6,236.8 933.6,240.2 925.2,242.7 916.9,245.2 913.5,238.5 907.7,235.1 898.5,239.3 891.8,243.5 893.5,248.5 900.2,251.9 905.2,256.9 903.5,265.2 910.2,271.9Z" fill="#b30000" stroke="#b30000" stroke-width="0.8"/>
<path d="M666.0,266.1 664.3,273.6 661.0,283.6 654.3,292.8 656.0,297.0 661.8,298.7 665.1,303.7 671.8,305.4 675.2,312.1 677.7,320.4 680.2,327.1 685.2,332.1 688.6,335.5 693.6,332.1 701.9,330.5 710.3,332.1 715.3,332.1 720.3,329.6 728.7,327.1 727.0,322.1 733.7,318.8 732.0,313.7 729.5,308.7 733.7,304.5 728.7,300.4 720.3,300.4 711.1,301.2 708.6,297.0 703.6,292.0 699.4,288.7 701.9,282.0 698.6,276.1 691.9,278.6 686.9,277.8 678.5,271.9 671.8,268.6Z" fill="#fdcc8a" stroke="#fdcc8a" stroke-width="0.8"/>
<path d="M654.3,292.8 648.4,297.0 640.1,304.5 634.2,303.7 631.7,310.4 628.4,318.8 625.0,328.8 623.3,333.8 622.4,335.2 627.4,338.6 630.8,345.3 635.8,350.3 646.0,352.0 651.8,351.7 656.8,358.4 661.8,366.8 663.3,369.8 664.3,369.3 666.8,366.0 670.2,360.1 671.8,353.4 676.9,348.4 683.5,345.0 686.9,340.0 688.6,335.5 685.2,332.1 680.2,327.1 677.7,320.4 675.2,312.1 671.8,305.4 665.1,303.7 661.8,298.7 656.0,297.0Z" fill="#fdcc8a" stroke="#fdcc8a" stroke-width="0.8"/>
<path d="M622.4,335.2 623.3,333.8 625.0,328.8 628.4,318.8 631.7,310.4 634.2,303.7 628.4,301.2 620.0,297.9 619.9,297.8 614.1,295.1 607.4,290.9 602.4,286.8 599.0,287.6 590.7,289.3 582.3,287.6 573.9,285.1 567.2,284.2 560.6,282.6 563.9,290.1 569.8,299.3 563.9,300.1 564.7,303.5 572.3,305.1 573.1,313.5 563.9,315.2 555.5,316.9 557.2,323.5 560.6,328.6 558.0,333.6 562.2,338.6 567.2,341.9 573.1,343.6 580.6,344.4 589.0,341.9 597.3,339.4 607.4,338.6 614.1,340.3Z" fill="#fdcc8a" stroke="#fdcc8a" stroke-width="0.8"/>
<path d="M622.4,335.2 614.1,340.3 616.6,348.6 619.1,357.0 616.6,365.3 617.4,373.7 614.9,383.7 617.4,392.1 623.3,397.1 622.4,405.5 625.0,412.9 625.2,413.4 628.4,415.3 636.7,418.6 638.4,415.3 643.4,413.6 651.8,411.9 656.8,408.6 660.1,403.6 666.8,400.2 673.5,396.9 680.2,394.4 676.9,388.5 670.2,381.8 665.1,373.5 663.3,369.8 661.8,366.8 656.8,358.4 651.8,351.7 646.0,352.0 635.8,350.3 630.8,345.3 627.4,338.6Z" fill="#fef0d9" stroke="#fef0d9" stroke-width="0.8"/>
<path d="M614.1,340.3 607.4,338.6 597.3,339.4 589.0,341.9 580.6,344.4 573.1,343.6 576.4,350.3 580.6,358.7 582.3,367.0 584.8,375.4 584.0,383.7 585.6,390.4 578.9,394.6 577.3,398.8 582.3,405.5 590.7,410.5 599.0,415.0 605.7,418.4 607.4,422.6 612.4,416.7 620.8,414.2 624.4,413.1 624.2,412.8 624.6,413.0 624.6,413.0 624.6,413.0 625.0,412.9 622.4,405.5 623.3,397.1 617.4,392.1 614.9,383.7 617.4,373.7 616.6,365.3 619.1,357.0 616.6,348.6Z" fill="#fef0d9" stroke="#fef0d9" stroke-width="0.8"/>
<path d="M715.3,332.1 710.3,332.1 701.9,330.5 693.6,332.1 688.6,335.5 686.9,340.0 683.5,345.0 676.9,348.4 671.8,353.4 670.2,360.1 666.8,366.0 664.3,369.3 663.3,369.8 665.1,373.5 670.2,381.8 676.9,388.5 680.2,394.4 686.9,396.0 688.5,395.6 693.6,394.4 700.3,392.7 708.6,392.7 717.0,393.5 727.0,393.5 729.5,393.8 729.5,393.5 730.4,386.9 728.7,376.8 726.2,370.1 727.0,365.1 725.3,356.8 723.7,348.4 720.3,341.7 712.8,338.4 715.3,332.2Z" fill="#e34a33" stroke="#e34a33" stroke-width="0.8"/>
<path d="M736.0,208.0 735.4,208.2 733.2,211.3 732.3,214.4 733.5,217.5 734.2,218.8 736.1,219.5 739.8,220.0 740.7,217.0 740.7,217.0 740.6,217.0 740.1,214.8 737.3,212.5 739.8,210.5 738.6,209.3 736.1,208.3Z" fill="#b30000" stroke="#b30000" stroke-width="0.8"/>
<path d="M752.0,203.8 749.2,204.5 745.4,206.6 741.7,206.2 738.6,206.8 736.0,208.0 736.1,208.3 738.6,209.3 739.8,210.5 742.6,212.5 740.1,214.8 740.6,217.0 740.7,217.0 740.7,217.0 740.7,216.9 743.6,215.0 747.3,214.4 751.7,214.4 752.0,211.3 752.9,207.5Z" fill="#b30000" stroke="#b30000" stroke-width="0.8"/>
<path d="M751.2,225.1 752.3,221.3 752.9,217.5 751.7,214.4 747.3,214.4 743.6,215.0 740.7,216.9 740.7,217.0 739.8,220.0 742.9,222.4 746.1,223.2 747.9,222.7 749.2,224.1Z" fill="#fdcc8a" stroke="#fdcc8a" stroke-width="0.8"/>
<path d="M739.8,210.5 737.3,212.5 740.1,214.8 742.6,212.5Z" fill="#b30000" stroke="#b30000" stroke-width="0.8"/>
<path d="M688.5,395.6 686.9,396.0 680.2,394.4 673.5,396.9 666.8,400.2 660.1,403.6 656.8,408.6 659.3,416.9 661.8,425.3 658.5,430.3 655.1,437.0 650.1,443.7 647.6,447.0 653.4,450.4 658.5,455.4 665.1,457.1 670.2,462.1 676.9,465.4 679.4,467.1 683.5,463.8 690.2,460.4 698.6,455.4 706.9,452.1 713.6,447.0 712.0,442.0 706.9,438.7 698.6,437.0 700.3,432.0 694.4,430.3 695.2,423.6 691.9,415.3 687.7,408.6 690.2,403.6 688.6,396.0Z" fill="#fef0d9" stroke="#fef0d9" stroke-width="0.8"/>
<path d="M729.5,393.8 727.0,393.5 717.0,393.5 708.6,392.7 700.3,392.7 693.6,394.4 688.5,395.6 688.6,396.0 690.2,403.6 687.7,408.6 691.9,415.3 695.2,423.6 694.4,430.3 700.3,432.0 698.6,437.0 706.9,438.7 712.0,442.0 713.6,447.0 722.0,445.4 730.4,448.7 737.0,450.4 745.2,450.1 742.1,445.4 740.4,438.7 747.1,432.0 750.4,423.6 749.3,417.0 748.8,413.6 743.7,405.2 737.0,400.2 734.5,394.4Z" fill="#fef0d9" stroke="#fef0d9" stroke-width="0.8"/>
<path d="M625.2,413.4 625.8,415.0 624.4,413.1 620.8,414.2 612.4,416.7 607.4,422.6 608.2,428.4 605.7,435.1 600.7,437.6 592.3,436.8 589.8,446.8 595.7,453.5 598.2,461.9 596.5,470.2 602.4,474.4 609.0,480.3 610.7,483.6 617.4,480.3 625.0,473.8 628.4,465.4 635.0,458.8 641.7,452.1 647.6,447.0 650.1,443.7 655.1,437.0 658.5,430.3 661.8,425.3 659.3,416.9 656.8,408.6 651.8,411.9 643.4,413.6 638.4,415.3 636.7,418.6 628.4,415.3Z" fill="#fef0d9" stroke="#fef0d9" stroke-width="0.8"/>
<path d="M772.2,366.8 763.8,370.1 757.1,371.8 752.1,378.5 750.4,383.5 743.7,386.9 737.0,388.5 734.5,394.4 737.0,400.2 743.7,405.2 748.8,413.6 749.3,417.0 750.1,416.9 757.1,413.6 763.8,408.6 768.0,408.6 768.8,413.6 775.5,418.6 782.2,421.1 790.6,422.0 797.2,421.1 800.6,425.3 807.3,427.0 810.6,430.3 814.0,425.3 814.8,416.9 819.0,408.6 820.7,400.2 822.3,391.9 815.6,385.2 808.9,378.5 804.9,373.7 803.9,372.6 797.2,376.0 792.2,373.5 785.5,375.1 778.9,371.8Z" fill="#fef0d9" stroke="#fef0d9" stroke-width="0.8"/>
<path d="M804.9,373.7 808.9,378.5 815.6,385.2 822.3,391.9 820.7,400.2 819.0,408.6 829.0,412.8 844.1,411.9 844.1,411.9 849.1,404.4 857.4,403.6 862.5,408.6 867.5,410.3 870.0,396.9 872.5,388.5 876.0,387.7 878.4,386.9 885.1,386.0 891.8,390.2 892.7,392.0 893.8,391.5 897.7,386.9 895.1,380.2 896.8,371.8 892.6,363.4 894.3,360.1 891.8,355.1 889.3,347.6 883.4,349.2 876.0,348.4 865.8,353.4 857.4,354.2 850.8,348.4 844.1,343.4 835.7,340.0 829.0,336.7 825.7,341.7 824.8,348.4 827.3,355.1 828.2,361.8 824.8,366.0 817.3,368.5 810.6,371.8 805.6,373.1Z" fill="#e34a33" stroke="#e34a33" stroke-width="0.8"/>
<path d="M844.1,411.9 829.0,412.8 819.0,408.6 814.8,416.9 814.0,425.3 810.6,430.3 814.0,438.7 817.3,447.0 820.7,457.1 823.2,465.4 822.3,473.8 829.0,472.1 837.4,475.5 845.7,477.1 850.8,480.5 852.1,482.3 860.0,479.7 867.6,473.8 866.7,464.6 864.1,463.8 857.4,458.8 850.8,452.1 844.1,445.4 845.7,437.0 842.4,428.7 840.7,420.3 844.1,412.3Z" fill="#fc8d59" stroke="#fc8d59" stroke-width="0.8"/>
<path d="M867.5,410.3 862.5,408.6 857.4,403.6 849.1,404.4 844.1,411.9 844.1,411.9 844.1,412.3 840.7,420.3 842.4,428.7 845.7,437.0 844.1,445.4 850.8,452.1 857.4,458.8 864.1,463.8 866.7,464.6 870.1,458.8 876.8,453.7 883.4,447.0 886.0,441.2 883.4,438.7 876.0,440.4 874.2,437.0 869.1,430.3 865.8,420.3 867.5,410.6Z" fill="#fc8d59" stroke="#fc8d59" stroke-width="0.8"/>
<path d="M749.3,417.0 750.4,423.6 747.1,432.0 740.4,438.7 742.1,445.4 745.2,450.1 745.4,450.1 745.3,450.2 745.4,450.4 744.6,458.8 745.4,468.8 748.8,467.9 755.4,468.8 762.1,473.8 770.5,475.5 773.8,479.7 777.2,477.1 783.9,476.3 790.6,473.0 798.9,472.1 805.6,477.1 814.0,475.5 822.3,473.8 823.2,465.4 820.7,457.1 817.3,447.0 814.0,438.7 810.6,430.3 807.3,427.0 800.6,425.3 797.2,421.1 790.6,422.0 782.2,421.1 775.5,418.6 768.8,413.6 768.0,408.6 763.8,408.6 757.1,413.6 750.1,416.9Z" fill="#fef0d9" stroke="#fef0d9" stroke-width="0.8"/>
<path d="M745.3,450.2 745.2,450.1 737.0,450.4 730.4,448.7 722.0,445.4 713.6,447.0 706.9,452.1 698.6,455.4 690.2,460.4 683.5,463.8 679.4,467.1 681.9,473.8 678.5,480.5 676.9,485.0 677.7,485.0 681.9,491.7 685.2,496.8 686.9,501.8 693.6,500.1 701.9,503.4 706.9,506.8 713.6,505.1 722.0,501.8 727.0,495.1 730.4,486.7 732.0,485.0 737.0,475.5 745.4,468.8 744.6,458.8 745.4,450.4Z" fill="#fdcc8a" stroke="#fdcc8a" stroke-width="0.8"/>
<path d="M745.4,468.8 737.0,475.5 732.0,485.0 730.4,486.7 727.0,495.1 722.0,501.8 725.3,511.8 727.0,521.8 727.9,529.4 735.4,527.7 743.7,528.5 747.1,521.8 752.1,515.1 757.1,509.3 762.1,513.5 765.5,520.2 768.8,526.9 771.3,528.5 772.2,521.8 775.5,515.1 782.2,511.8 787.2,508.5 791.4,506.8 790.6,500.1 787.2,491.7 783.9,485.0 780.5,480.5 777.2,477.1 773.8,479.7 770.5,475.5 762.1,473.8 755.4,468.8 748.8,467.9Z" fill="#fef0d9" stroke="#fef0d9" stroke-width="0.8"/>
<path d="M679.4,467.1 676.9,465.4 670.2,462.1 665.1,457.1 658.5,455.4 653.4,450.4 647.6,447.0 641.7,452.1 635.0,458.8 628.4,465.4 625.0,473.8 617.4,480.3 610.7,483.6 607.4,488.6 612.4,492.0 610.7,500.3 609.0,507.0 614.1,511.2 620.8,512.0 624.1,510.4 623.3,517.0 627.4,523.7 635.8,525.4 646.0,523.7 653.4,525.2 656.0,530.2 662.6,537.7 663.0,537.9 665.1,533.5 670.2,526.9 678.5,520.2 681.9,515.1 686.9,510.1 686.9,501.8 685.2,496.8 681.9,491.7 677.7,485.0 676.9,485.0 678.5,480.5 681.9,473.8Z" fill="#fef0d9" stroke="#fef0d9" stroke-width="0.8"/>
<path d="M822.3,473.8 814.0,475.5 805.6,477.1 798.9,472.1 790.6,473.0 783.9,476.3 777.2,477.1 780.5,480.5 783.9,485.0 787.2,491.7 790.6,500.1 791.4,506.8 795.6,511.8 802.3,513.5 808.9,513.5 814.0,516.8 819.8,520.2 823.2,518.5 829.0,511.8 837.4,506.8 844.1,500.1 845.7,491.7 851.6,484.7 850.0,483.0 852.1,482.3 850.8,480.5 845.7,477.1 837.4,475.5 829.0,472.1Z" fill="#fef0d9" stroke="#fef0d9" stroke-width="0.8"/>
<path d="M852.1,482.3 854.1,485.0 851.6,484.7 845.7,491.7 844.1,500.1 837.4,506.8 829.0,511.8 823.2,518.5 819.8,520.2 822.3,526.9 825.7,535.2 829.0,543.6 830.7,551.9 837.4,555.3 844.1,556.9 850.8,553.6 857.4,555.3 864.1,555.3 864.2,554.9 865.0,546.9 866.7,536.9 869.2,526.9 870.9,515.1 875.1,503.4 873.4,491.7 871.7,485.0 870.9,478.0 867.6,473.8 860.0,479.7Z" fill="#fc8d59" stroke="#fc8d59" stroke-width="0.8"/>
<path d="M912.7,450.4 906.9,445.4 901.8,438.7 896.8,433.7 891.8,437.0 886.0,441.2 883.4,447.0 876.8,453.7 870.1,458.8 866.7,464.6 867.6,473.8 870.9,478.0 878.4,477.1 885.1,475.5 887.6,480.5 890.1,485.0 891.0,490.1 898.5,495.1 905.2,493.4 907.7,501.8 908.5,511.8 916.9,516.8 925.2,522.7 928.6,518.5 936.9,511.8 943.6,508.5 953.7,506.0 955.3,500.1 948.7,496.8 947.0,490.1 943.6,485.0 941.1,480.5 942.0,473.8 940.3,467.1 935.3,463.8 930.3,462.1 926.9,465.4 921.9,463.8 918.6,458.8Z" fill="#fef0d9" stroke="#fef0d9" stroke-width="0.8"/>
<path d="M870.9,478.0 871.7,485.0 873.4,491.7 875.1,503.4 870.9,515.1 869.2,526.9 866.7,536.9 865.0,546.9 864.2,554.9 864.1,555.3 866.7,557.8 871.7,560.3 876.8,555.3 883.4,554.4 890.1,556.9 898.5,560.3 905.2,563.6 911.9,566.1 916.9,562.8 921.9,560.3 920.2,553.6 915.2,550.3 910.2,546.9 907.7,541.9 911.9,536.9 916.9,535.2 918.6,526.9 925.2,522.7 916.9,516.8 908.5,511.8 907.7,501.8 905.2,493.4 898.5,495.1 891.0,490.1 890.1,485.0 887.6,480.5 885.1,475.5 878.4,477.1Z" fill="#fc8d59" stroke="#fc8d59" stroke-width="0.8"/>
<path d="M663.0,537.9 662.6,537.7 656.0,530.2 653.4,525.2 646.0,523.7 635.8,525.4 627.4,523.7 623.3,517.0 617.4,520.4 614.1,525.4 615.7,530.4 609.0,533.8 607.4,540.5 605.7,547.1 602.4,548.0 601.3,555.0 596.8,555.9 597.1,561.7 603.8,563.4 611.4,566.8 608.9,571.8 607.2,577.6 607.5,578.4 613.9,576.0 620.0,575.3 626.7,573.7 633.4,570.3 640.1,572.0 646.8,568.7 651.8,563.6 655.1,556.9 656.8,551.9 661.0,548.6 663.1,545.8 663.5,545.2 662.6,538.6Z" fill="#fef0d9" stroke="#fef0d9" stroke-width="0.8"/>
<path d="M722.0,501.8 713.6,505.1 706.9,506.8 701.9,503.4 693.6,500.1 686.9,501.8 686.9,510.1 681.9,515.1 678.5,520.2 670.2,526.9 665.1,533.5 663.0,537.9 662.6,538.6 663.5,545.2 663.1,545.8 663.5,546.1 670.2,550.3 676.9,556.9 680.2,560.3 686.9,556.9 693.6,560.3 700.3,558.6 706.9,555.3 712.8,556.9 711.1,550.3 710.3,543.6 715.3,536.9 722.0,533.5 727.9,529.4 727.0,521.8 725.3,511.8Z" fill="#fdcc8a" stroke="#fdcc8a" stroke-width="0.8"/>
<path d="M663.1,545.8 661.0,548.6 656.8,551.9 655.1,556.9 651.8,563.6 646.8,568.7 650.1,578.7 653.4,587.0 656.0,594.6 663.5,593.7 670.2,595.4 676.9,590.4 685.2,588.7 691.9,583.7 695.2,577.0 698.6,570.3 706.9,568.7 712.8,566.1 712.0,562.0 712.8,556.9 706.9,555.3 700.3,558.6 693.6,560.3 686.9,556.9 680.2,560.3 676.9,556.9 670.2,550.3 663.5,546.1Z" fill="#fef0d9" stroke="#fef0d9" stroke-width="0.8"/>
<path d="M646.8,568.7 640.1,572.0 633.4,570.3 626.7,573.7 620.0,575.3 613.9,576.0 607.5,578.4 607.2,578.5 602.2,576.8 597.1,580.1 592.1,581.8 591.3,588.5 592.1,593.5 588.8,598.5 587.1,604.4 588.2,604.9 592.1,606.9 597.1,608.6 597.3,609.3 598.8,608.9 603.8,613.6 608.9,620.3 615.5,625.3 623.9,628.6 632.3,631.1 638.9,628.6 647.3,625.3 657.3,626.9 660.1,625.0 661.8,620.5 668.5,613.8 666.8,608.8 661.8,600.4 656.0,594.6 653.4,587.0 650.1,578.7Z" fill="#fdcc8a" stroke="#fdcc8a" stroke-width="0.8"/>
<path d="M771.3,528.5 768.8,526.9 765.5,520.2 762.1,513.5 757.1,509.3 752.1,515.1 747.1,521.8 743.7,528.5 735.4,527.7 727.9,529.4 722.0,533.5 715.3,536.9 710.3,543.6 711.1,550.3 712.8,556.9 712.0,562.0 712.8,566.1 723.7,565.3 733.7,572.0 742.1,580.4 747.1,590.4 752.1,598.8 760.5,602.1 768.0,603.8 773.8,602.1 775.5,597.1 783.9,593.7 792.2,590.4 795.6,585.4 793.9,580.4 797.2,577.0 790.6,572.0 787.2,565.3 782.2,560.3 780.5,551.9 777.2,543.6 776.3,535.2Z" fill="#fef0d9" stroke="#fef0d9" stroke-width="0.8"/>
<path d="M791.4,506.8 787.2,508.5 782.2,511.8 775.5,515.1 772.2,521.8 771.3,528.5 776.3,535.2 777.2,543.6 780.5,551.9 782.2,560.3 787.2,565.3 790.6,572.0 798.9,570.3 807.3,571.2 814.0,568.7 822.3,570.3 824.8,565.3 824.0,556.9 825.7,550.3 830.7,551.9 829.0,543.6 825.7,535.2 822.3,526.9 819.8,520.2 814.0,516.8 808.9,513.5 802.3,513.5 795.6,511.8Z" fill="#fef0d9" stroke="#fef0d9" stroke-width="0.8"/>
<path d="M864.1,555.3 867.5,560.3 870.8,567.0 874.2,573.7 870.8,580.4 868.0,584.1 869.2,585.0 873.4,584.5 881.8,587.0 886.8,592.1 893.5,597.1 900.2,598.8 908.5,600.4 916.9,602.9 923.6,602.1 929.4,597.1 923.6,592.1 918.6,587.0 916.9,580.4 913.5,573.7 911.9,566.1 905.2,563.6 898.5,560.3 890.1,556.9 883.4,554.4 876.8,555.3 871.7,560.3 866.7,557.8Z" fill="#fef0d9" stroke="#fef0d9" stroke-width="0.8"/>
<path d="M712.8,566.1 706.9,568.7 698.6,570.3 695.2,577.0 691.9,583.7 693.6,592.1 698.6,602.1 701.9,608.8 708.6,613.8 715.3,618.8 717.0,625.0 716.9,625.2 720.3,626.9 730.3,624.3 740.3,624.3 748.7,625.2 752.1,625.0 750.4,620.5 752.1,613.8 757.1,610.5 763.8,608.8 768.0,603.8 760.5,602.1 752.1,598.8 747.1,590.4 742.1,580.4 733.7,572.0 723.7,565.3Z" fill="#fef0d9" stroke="#fef0d9" stroke-width="0.8"/>
<path d="M877.6,553.6 882.6,553.6 886.0,547.8 880.9,544.4 875.9,549.4Z" fill="#fef0d9" stroke="#fef0d9" stroke-width="0.8"/>
<path d="M1153.8,722.3 1153.8,721.9 1154.6,717.1 1157.0,710.6 1159.4,702.5 1159.4,696.1 1157.8,688.0 1155.4,678.3 1153.8,668.5 1150.6,660.5 1146.5,655.6 1147.3,649.1 1146.5,641.0 1144.9,634.6 1141.7,632.6 1137.6,634.6 1137.6,639.4 1139.2,645.9 1140.8,652.4 1138.4,656.4 1131.9,655.6 1127.1,658.0 1123.9,662.1 1119.0,665.3 1112.5,668.5 1106.1,675.0 1102.8,681.5 1099.6,688.0 1106.1,689.6 1114.1,692.0 1119.0,695.2 1125.5,699.3 1130.3,704.1 1135.2,710.6 1140.0,712.2 1141.7,717.1 1143.3,721.9 1144.9,725.2 1148.9,726.0 1153.8,722.3Z" fill="#fef0d9" stroke="#fef0d9" stroke-width="0.8"/>
<path d="M1099.6,688.0 1101.2,691.2 1106.1,696.1 1102.0,699.3 1101.2,704.1 1104.4,710.6 1109.3,713.9 1110.9,717.1 1106.1,720.3 1107.7,725.2 1115.8,725.2 1117.4,730.0 1114.1,734.9 1114.1,738.9 1119.0,739.7 1125.5,743.0 1119.8,746.2 1120.6,749.4 1125.5,752.7 1133.6,755.9 1141.7,757.5 1140.0,760.8 1143.3,763.2 1148.9,763.2 1149.7,759.2 1151.4,752.7 1153.8,746.2 1155.4,738.1 1154.6,730.0 1153.8,722.3 1153.8,722.3 1148.9,726.0 1144.9,725.2 1143.3,721.9 1141.7,717.1 1140.0,712.2 1135.2,710.6 1130.3,704.1 1125.5,699.3 1119.0,695.2 1114.1,692.0 1106.1,689.6Z" fill="#fc8d59" stroke="#fc8d59" stroke-width="0.8"/>
<path d="M447.7,271.3 438.5,269.7 431.8,265.5 423.4,260.1 415.1,262.1 406.7,258.8 405.0,252.1 398.4,245.4 394.2,242.1 401.7,240.4 411.7,239.6 415.9,236.2 406.7,232.0 401.7,231.2 402.5,227.0 408.4,227.0 415.1,226.2 413.4,223.7 406.7,222.8 400.0,221.2 394.2,220.3 393.3,215.3 395.0,206.9 403.4,202.8 415.1,200.3 423.4,201.9 431.8,200.3 440.2,202.8 446.9,201.9 450.5,204.9 454.4,200.3 456.9,195.2 463.6,196.9 470.3,195.2 476.9,194.4 481.1,198.6 483.6,203.6 488.7,208.6 491.2,215.3 494.5,221.2 500.4,218.7 507.0,215.3 513.7,213.6 518.8,214.5 522.1,218.7 526.3,217.0 532.1,216.1 535.5,213.6 537.1,219.5 543.8,220.3 550.5,219.8 557.2,220.0 553.0,213.6 551.4,203.6 552.2,193.6 550.5,185.2 548.0,175.2 545.5,165.1 543.0,155.1 542.2,146.8 540.5,139.2 547.2,142.6 555.5,145.1 563.9,142.6 571.4,143.4 573.1,147.6 569.8,153.4 572.3,160.1 575.6,168.5 584.0,166.8 592.3,168.5 600.7,171.0 610.7,174.3 620.8,176.0 627.4,175.2 634.1,171.0 640.8,167.7 643.4,167.0 636.7,165.4 635.4,158.7 638.1,151.2 645.1,145.6 653.4,141.6 661.8,137.8 670.2,134.9 678.5,131.9 686.9,128.3 693.6,125.2 697.8,123.6 700.3,121.6 702.8,116.9 706.9,114.4 705.3,108.5 706.1,103.5 705.8,98.5 706.6,88.5 706.9,80.1 707.8,71.7 709.0,66.7 715.3,62.5 722.8,59.7 730.4,57.0 737.0,55.9 744.6,53.7 752.1,52.0 753.3,56.7 754.3,61.7 755.8,68.4 757.9,73.4 762.1,77.6 765.8,79.8 770.5,76.3 775.5,74.6 779.7,73.4 781.4,78.4 783.5,84.3 785.5,92.6 790.6,93.8 794.7,93.1 801.4,95.5 802.6,100.2 803.4,105.5 808.9,106.4 814.8,104.8 820.7,104.3 824.3,106.9 826.0,111.0 826.5,116.9 829.0,121.9 827.3,126.1 824.3,129.9 829.0,132.8 835.7,133.6 844.1,131.9 851.6,128.6 851.3,122.7 855.9,117.7 859.2,117.7 858.0,123.6 857.0,128.6 859.7,134.4 859.2,141.1 865.0,143.6 869.2,145.0 873.4,149.5 878.4,150.0 883.4,154.5 886.0,158.7 887.6,163.7 893.5,161.7 898.5,159.9 903.5,159.5 907.7,162.4 913.5,165.4 918.6,163.7 921.9,161.7 926.1,160.7 929.4,163.4 935.3,163.4 940.3,166.2 942.0,169.6 942.8,173.7 946.1,177.1 950.3,182.1 955.3,183.8 957.9,180.4 962.0,180.8 965.4,185.1 967.9,187.9 973.7,185.1 978.8,183.8 982.9,180.4 986.3,182.9 988.8,186.3 993.8,187.9 1000.5,187.9 1008.0,187.1 1014.7,190.5 1020.9,192.5 1018.0,200.0 1014.7,206.7 1010.5,213.4 1006.3,220.1 1005.5,226.8 1003.8,233.5 1003.8,240.2 1001.3,246.9 999.7,254.4 998.0,256.9 999.7,263.6 1000.5,270.3 998.8,276.9 999.7,285.3 998.8,290.3 1002.2,295.3 998.8,302.0 995.5,307.0 988.8,308.7 983.8,309.6 982.1,305.4 977.1,306.2 973.7,309.6 971.2,313.7 976.2,316.2 973.7,320.4 970.4,325.4 967.0,330.5 963.7,337.1 959.5,345.0 953.7,348.4 949.5,353.4 948.7,361.8 943.6,366.8 938.6,373.5 935.3,378.5 933.6,385.2 931.9,391.0 936.9,394.4 934.4,401.9 929.4,405.2 928.1,411.1 935.3,408.6 941.1,403.6 940.3,396.9 945.3,390.2 953.7,386.0 963.7,385.2 970.4,386.9 970.4,393.5 974.6,396.9 972.9,405.2 978.8,411.9 983.8,418.6 984.6,425.3 980.4,430.3 974.6,435.3 978.8,440.4 983.8,445.4 985.4,452.1 990.5,457.1 996.3,462.1 995.5,468.8 993.8,475.5 987.1,478.8 982.1,485.0 977.1,484.2 970.4,486.7 973.7,493.4 977.1,500.1 982.1,503.4 988.8,506.0 993.0,511.8 992.1,516.8 988.8,520.2 987.9,526.9 988.8,536.9 987.1,543.6 992.1,548.6 1000.5,553.6 1008.9,556.9 1017.2,558.6 1025.6,556.9 1033.1,557.8 1035.6,561.1 1033.1,568.7 1028.9,575.3 1027.2,583.7 1022.2,587.0 1017.2,593.7 1010.5,597.1 1005.5,603.8 998.8,607.1 995.5,612.1 992.1,617.1 987.1,620.5 983.8,625.0 978.8,630.2 982.1,635.2 973.8,637.7 965.4,643.5 957.0,645.2 948.7,646.9 940.3,645.2 937.0,648.6 932.0,643.5 926.1,641.0 920.3,639.4 908.6,638.5 905.2,631.8 896.0,630.2 887.5,626.9 880.8,625.2 879.1,630.2 870.8,628.5 862.4,627.7 854.0,623.5 847.3,620.2 842.3,622.2 840.7,618.5 835.6,615.1 830.6,616.8 823.9,621.8 815.6,626.9 807.2,633.5 800.5,636.9 792.2,638.6 786.3,641.9 780.5,648.6 777.1,656.9 776.3,665.3 775.4,671.2 775.4,678.7 776.3,687.0 777.1,693.7 782.1,698.8 780.5,703.8 773.8,702.1 767.1,700.4 760.4,703.8 753.7,708.8 745.3,712.1 740.3,708.8 733.6,703.8 725.3,705.4 718.6,707.1 711.9,708.8 706.9,702.1 698.5,698.8 700.2,692.9 695.2,690.7 687.4,688.8 679.1,687.1 672.4,682.1 664.0,678.8 655.7,675.4 647.3,672.1 640.6,668.8 637.3,672.1 635.6,679.6 630.6,678.8 623.9,678.8 617.2,677.9 612.2,678.8 605.5,677.1 597.1,678.8 592.1,673.8 583.8,667.1 578.8,664.6 572.1,665.4 563.7,667.1 555.3,658.7 547.0,653.7 538.6,650.4 530.3,647.0 521.9,643.7 515.2,640.3 519.4,635.3 518.6,630.3 513.5,625.3 508.5,623.6 501.8,620.3 499.3,616.1 505.2,611.9 511.9,608.6 516.9,604.4 521.9,590.2 526.9,573.4 531.9,555.0 532.1,555.0 534.6,543.8 537.1,533.8 538.8,527.1 541.3,519.6 547.2,520.4 550.5,517.0 545.5,513.7 539.7,515.4 543.0,500.3 546.3,483.6 548.9,466.9 549.7,456.0 553.9,451.8 557.2,456.9 563.9,466.9 570.6,476.9 572.3,473.6 568.9,466.9 562.2,456.9 555.5,448.5 548.9,441.8 547.2,435.1 550.5,431.8 555.5,421.7 557.2,415.0 554.7,407.1 552.2,402.1 555.5,397.1 556.4,393.8 550.5,395.4 543.8,392.1 537.1,387.1 530.5,380.4 523.8,373.7 520.4,367.0 515.4,358.7 510.4,352.0 508.7,345.3 512.1,340.3 517.1,336.1 512.1,331.9 507.0,326.9 510.4,324.4 509.6,318.5 503.7,316.0 494.5,313.5 493.7,308.5 497.0,301.0 490.3,296.8 482.0,296.0 478.6,293.4 484.5,290.9 480.3,288.4 471.9,289.3 465.2,290.1 461.9,286.8 456.9,281.7 451.9,276.7Z" fill="none" stroke="#f3cdbf" stroke-opacity="0.55" stroke-width="0.7"/>
<path d="M1137.6,634.6 1141.7,632.6 1144.9,634.6 1146.5,641.0 1147.3,649.1 1146.5,655.6 1150.6,660.5 1153.8,668.5 1155.4,678.3 1157.8,688.0 1159.4,696.1 1159.4,702.5 1157.0,710.6 1154.6,717.1 1153.8,721.9 1154.6,730.0 1155.4,738.1 1153.8,746.2 1151.4,752.7 1149.7,759.2 1148.9,763.2 1143.3,763.2 1140.0,760.8 1141.7,757.5 1133.6,755.9 1125.5,752.7 1120.6,749.4 1119.8,746.2 1125.5,743.0 1119.0,739.7 1114.1,738.9 1114.1,734.9 1117.4,730.0 1115.8,725.2 1107.7,725.2 1106.1,720.3 1110.9,717.1 1109.3,713.9 1104.4,710.6 1101.2,704.1 1102.0,699.3 1106.1,696.1 1101.2,691.2 1099.6,688.0 1102.8,681.5 1106.1,675.0 1112.5,668.5 1119.0,665.3 1123.9,662.1 1127.1,658.0 1131.9,655.6 1138.4,656.4 1140.8,652.4 1139.2,645.9 1137.6,639.4Z" fill="none" stroke="#f3cdbf" stroke-opacity="0.55" stroke-width="0.7"/>
<path d="M730.4,57.0 730.4,57.0 733.7,63.4 736.2,70.9 743.7,74.2 742.9,78.4 747.1,82.6 757.1,85.1 762.1,82.6 765.5,85.1 763.8,90.1 767.1,93.5 771.3,94.3 772.5,100.2 773.0,106.9 776.3,109.4 773.8,111.0 779.7,112.7 778.0,120.2 777.2,126.9 777.2,126.9 M706.1,103.5 706.1,103.5 710.3,105.2 716.1,103.5 723.7,108.5 728.7,114.4 737.0,114.4 745.4,113.5 748.8,116.9 744.6,120.2 745.4,122.7 752.1,121.9 758.8,122.7 762.1,121.9 767.1,126.9 777.2,126.9 777.2,126.9 M777.2,126.9 777.2,126.9 780.5,128.6 788.9,127.8 797.2,126.9 803.9,126.1 812.3,127.8 819.0,126.9 824.3,129.9 824.3,129.9 M780.1,128.4 780.0,128.6 778.9,136.9 776.3,143.6 777.2,152.3 778.0,160.4 776.3,170.4 772.2,178.8 773.8,183.8 776.3,188.8 776.3,194.1 776.3,194.6 M712.0,148.7 712.0,148.7 718.7,151.2 727.0,150.3 737.0,152.0 747.1,155.3 757.1,159.5 763.8,154.5 770.5,152.8 777.2,152.3 777.2,152.3 M643.4,167.0 643.4,167.0 654.3,164.5 661.0,169.6 668.5,170.4 673.5,173.7 676.9,182.1 685.2,177.1 686.9,172.9 695.2,168.7 703.6,169.6 712.5,173.7 712.8,173.7 M643.4,167.0 643.4,167.0 645.1,178.8 648.4,183.8 646.8,192.1 649.3,198.8 648.4,198.7 648.4,198.7 M820.7,173.7 820.7,173.7 829.0,174.6 835.7,178.8 844.1,180.4 850.8,183.8 858.4,183.4 866.7,182.1 866.7,182.1 M884.1,155.7 884.8,155.3 880.9,158.7 875.1,159.5 871.7,161.2 870.4,165.4 871.7,170.4 869.7,174.6 868.4,179.6 866.7,182.1 866.7,182.1 M866.7,182.1 866.7,182.1 865.9,183.8 867.6,192.1 870.1,200.5 870.9,205.0 867.5,211.7 865.8,218.4 866.6,224.3 867.6,224.3 867.4,224.7 M887.8,163.6 888.1,164.5 890.1,169.6 898.5,169.1 901.8,173.7 903.5,182.1 906.0,192.1 907.7,197.1 906.0,205.0 904.3,213.4 905.2,221.8 906.0,228.5 907.7,235.1 907.7,235.1 M909.8,163.5 909.9,163.4 911.9,170.4 914.4,177.1 916.9,182.1 914.4,187.1 913.5,192.1 916.9,197.1 921.9,201.3 930.3,203.8 933.6,210.1 940.3,214.2 948.7,218.4 957.0,221.8 965.4,225.1 973.7,229.3 973.7,229.3 M967.9,187.9 967.9,187.9 969.6,192.1 965.4,198.8 962.9,203.0 965.4,205.0 970.4,207.6 973.7,205.0 978.8,208.4 979.6,216.8 977.9,223.4 973.7,229.3 973.7,229.3 M969.2,192.7 969.6,193.0 977.1,195.5 985.4,197.1 992.1,196.3 993.8,187.9 993.8,187.9 M450.5,204.9 450.5,204.9 452.7,213.6 451.0,222.0 452.2,230.4 451.0,237.0 449.4,241.2 446.9,242.9 446.9,242.9 M446.9,242.9 446.9,242.9 456.9,243.7 465.2,245.4 471.9,243.7 478.6,244.6 485.3,249.6 492.0,252.9 494.5,256.3 500.4,252.1 505.4,249.6 512.9,252.9 512.9,252.9 M446.9,242.9 446.9,242.9 441.8,246.2 444.3,253.8 451.9,257.1 454.4,262.1 450.2,268.8 447.7,275.0 447.7,271.4 447.7,271.4 M523.6,218.1 523.8,218.7 524.6,221.2 528.8,221.2 533.0,225.3 531.3,233.7 528.8,240.4 522.1,243.7 517.1,247.1 512.9,252.9 512.9,252.9 M512.9,252.9 512.9,252.9 513.7,258.8 517.9,265.5 521.3,275.0 520.4,271.7 518.8,278.4 517.1,287.6 517.1,287.6 M576.2,168.4 576.4,169.3 578.9,176.9 585.6,181.9 587.3,189.4 584.3,195.6 577.3,199.1 575.9,204.9 572.6,206.9 574.8,211.1 580.6,211.6 588.1,212.8 588.1,212.8 M588.1,212.8 588.1,212.8 589.3,220.3 588.1,227.0 585.6,233.4 585.5,233.6 M588.1,212.8 588.1,212.8 595.7,208.6 607.4,206.9 615.7,208.6 621.6,210.3 627.4,206.9 635.8,201.9 641.7,202.5 648.4,198.7 648.4,198.7 M621.6,238.7 621.6,238.7 618.2,243.7 617.4,252.1 613.2,258.8 614.1,263.8 609.0,268.8 608.2,275.0 604.9,278.4 602.4,286.8 602.4,286.8 M648.4,198.7 648.4,198.7 652.6,206.7 660.1,211.7 664.3,219.3 666.8,223.4 666.8,223.4 M619.9,297.8 620.0,297.9 628.4,301.2 634.2,303.7 634.2,303.7 M666.0,266.1 666.0,266.1 671.8,268.6 678.5,271.9 686.9,277.8 691.9,278.6 698.6,276.1 698.6,276.1 M698.6,276.1 698.6,276.1 705.3,271.9 713.6,268.6 717.0,263.6 721.2,260.2 722.0,254.4 723.7,253.5 723.7,253.5 M698.6,276.1 698.6,276.1 701.9,282.0 699.4,288.7 703.6,292.0 708.6,297.0 711.1,301.2 720.3,300.4 728.7,300.4 733.7,304.5 733.7,304.5 M733.7,304.5 733.7,304.5 740.4,306.2 748.8,308.7 753.8,313.7 760.5,312.1 764.6,311.2 764.6,311.2 M733.7,304.5 733.7,304.5 729.5,308.7 732.0,313.7 733.7,318.8 727.0,322.1 728.7,327.1 720.3,329.6 715.3,332.1 715.3,332.1 M715.3,332.1 715.3,332.1 710.3,332.1 701.9,330.5 693.6,332.1 688.6,335.5 688.6,335.5 M654.3,292.8 654.3,292.8 656.0,297.0 661.8,298.7 665.1,303.7 671.8,305.4 675.2,312.1 677.7,320.4 680.2,327.1 685.2,332.1 688.6,335.5 688.6,335.5 M795.3,229.1 795.6,229.3 802.3,235.1 810.6,236.8 815.6,231.8 820.7,226.0 829.0,224.3 835.7,226.0 839.0,231.8 845.7,235.1 854.1,236.0 854.1,236.0 M854.1,236.0 854.1,236.0 857.4,234.3 860.8,230.1 866.6,224.3 866.6,224.3 M866.6,224.3 866.6,224.3 872.5,226.8 876.0,229.3 880.1,233.5 886.8,238.5 891.8,243.5 891.8,243.5 M854.1,236.0 854.1,236.0 857.4,245.2 860.8,253.5 862.5,260.2 859.1,266.9 861.6,273.6 861.6,273.6 M770.5,308.7 770.5,308.7 777.2,307.9 782.2,313.7 788.9,314.6 797.2,312.9 803.9,317.1 812.3,319.6 820.7,323.8 828.2,323.8 828.2,323.8 M834.0,278.6 834.0,278.6 837.4,285.3 837.4,293.7 834.0,300.4 830.7,310.4 828.2,318.8 828.2,323.8 828.2,323.8 M703.2,196.2 703.5,196.6 706.6,197.4 711.6,199.1 716.0,198.1 721.0,201.3 726.0,201.9 730.4,203.5 733.5,206.3 735.4,208.2 738.6,206.8 741.7,206.2 745.4,206.6 749.2,204.5 752.0,203.8 752.0,203.8 M751.8,195.4 751.7,195.6 751.1,200.0 752.0,203.8 752.0,203.8 M752.0,203.8 752.0,203.8 752.9,207.5 752.0,211.3 751.7,214.4 752.9,217.5 752.3,221.3 751.2,225.1 751.2,225.1 M739.8,220.0 739.8,220.0 740.7,216.9 743.6,215.0 747.3,214.4 751.7,214.4 751.7,214.4 M735.4,208.2 735.4,208.2 733.2,211.3 732.3,214.4 733.5,217.5 734.2,218.8 736.1,219.5 739.8,220.0 742.9,222.4 746.1,223.2 747.9,222.7 749.2,224.1 751.2,225.1 751.2,225.1 M737.3,212.5 739.8,210.5 742.6,212.5 740.1,214.8 737.3,212.5 M736.0,208.0 736.1,208.3 738.6,209.3 739.8,210.5 739.8,210.5 M740.1,214.8 740.1,214.8 740.6,217.0 740.7,217.0 M734.2,218.8 734.2,218.8 731.0,220.7 728.5,223.8 726.7,227.6 725.4,231.3 723.5,235.1 721.0,238.2 720.1,243.8 719.6,244.4 M751.2,225.1 751.2,225.1 750.4,230.1 748.6,234.4 747.6,238.2 747.9,243.0 744.6,254.4 744.1,254.6 M962.0,282.0 962.0,282.0 960.4,288.7 962.0,297.0 967.0,302.0 970.4,307.0 973.7,309.6 973.7,309.6 M891.8,243.5 891.8,243.5 893.5,248.5 900.2,251.9 905.2,256.9 903.5,265.2 910.2,271.9 914.4,276.9 914.4,276.9 M891.8,243.5 891.8,243.5 898.5,239.3 907.7,235.1 907.7,235.1 M907.7,235.1 907.7,235.1 913.5,238.5 916.9,245.2 925.2,242.7 933.6,240.2 943.6,236.8 950.3,235.1 957.0,238.5 963.7,235.1 970.4,231.0 973.7,229.3 973.7,229.3 M973.7,229.3 973.7,229.3 972.9,236.8 977.1,244.3 973.7,253.5 970.4,263.6 967.0,273.6 965.4,282.0 963.7,283.1 963.7,283.1 M977.1,244.3 977.1,244.3 983.8,248.5 992.1,251.9 998.0,256.9 998.0,256.9 M886.0,303.7 886.0,303.7 890.1,307.0 895.1,305.4 896.0,313.7 895.1,320.4 898.5,325.4 903.5,327.9 903.5,327.9 M903.5,327.9 903.5,327.9 898.5,332.1 895.1,338.8 891.0,345.0 889.3,347.6 889.3,347.6 M903.5,327.9 903.5,327.9 910.2,327.1 915.2,322.9 923.6,320.4 931.9,315.4 936.9,310.4 943.6,307.0 950.3,305.4 957.0,302.0 962.0,297.9 962.5,297.4 M910.2,327.1 910.2,327.1 913.5,333.8 914.4,340.5 915.2,345.0 921.9,347.6 925.2,353.4 930.3,358.4 936.9,363.4 931.9,370.1 930.3,375.1 935.3,378.5 935.3,378.5 M560.6,282.6 560.6,282.6 567.2,284.2 573.9,285.1 582.3,287.6 590.7,289.3 599.0,287.6 602.4,286.8 602.4,286.8 M602.4,286.8 602.4,286.8 607.4,290.9 614.1,295.1 619.9,297.8 620.0,297.9 M560.6,282.6 560.6,282.6 563.9,290.1 569.8,299.3 563.9,300.1 564.7,303.5 572.3,305.1 573.1,313.5 563.9,315.2 555.5,316.9 557.2,323.5 560.6,328.6 558.0,333.6 558.0,333.6 M517.1,336.1 517.1,336.1 522.1,341.9 528.8,345.3 532.1,348.6 538.8,350.3 540.5,343.6 543.0,338.6 544.7,343.6 548.0,342.8 548.9,338.6 554.7,337.8 558.0,333.6 558.0,333.6 M558.0,333.6 558.0,333.6 562.2,338.6 567.2,341.9 573.1,343.6 573.1,343.6 M578.9,394.6 578.9,394.6 577.3,398.8 582.3,405.5 590.7,410.5 599.0,415.0 605.7,418.4 607.4,422.6 607.4,422.6 M614.1,340.3 614.1,340.3 616.6,348.6 619.1,357.0 616.6,365.3 617.4,373.7 614.9,383.7 617.4,392.1 623.3,397.1 622.4,405.5 625.8,415.0 624.2,412.8 624.2,412.8 M688.6,335.5 688.6,335.5 686.9,340.0 683.5,345.0 676.9,348.4 671.8,353.4 670.2,360.1 666.8,366.0 664.3,369.3 663.3,369.8 M715.3,332.1 715.3,332.2 712.8,338.4 720.3,341.7 723.7,348.4 725.3,356.8 727.0,365.1 726.2,370.1 728.7,376.8 730.4,386.9 729.5,393.5 729.5,393.8 M828.2,323.8 828.2,323.8 832.4,330.5 829.0,336.7 829.0,336.7 M829.0,336.7 829.0,336.7 825.7,341.7 824.8,348.4 827.3,355.1 828.2,361.8 824.8,366.0 817.3,368.5 810.6,371.8 805.6,373.1 804.9,373.7 M829.0,336.7 829.0,336.7 835.7,340.0 844.1,343.4 850.8,348.4 857.4,354.2 865.8,353.4 876.0,348.4 883.4,349.2 889.3,347.6 889.3,347.6 M624.2,412.8 624.2,412.8 628.4,415.3 636.7,418.6 638.4,415.3 643.4,413.6 651.8,411.9 656.8,408.6 660.1,403.6 666.8,400.2 673.5,396.9 680.2,394.4 680.2,394.4 M656.8,408.6 656.8,408.6 659.3,416.9 661.8,425.3 658.5,430.3 655.1,437.0 650.1,443.7 647.6,447.0 647.6,447.0 M647.6,447.0 647.6,447.0 653.4,450.4 658.5,455.4 665.1,457.1 670.2,462.1 676.9,465.4 679.4,467.1 679.4,467.1 M647.6,447.0 647.6,447.0 641.7,452.1 635.0,458.8 628.4,465.4 625.0,473.8 617.4,480.3 610.7,483.6 610.7,483.6 M688.5,395.6 688.6,396.0 690.2,403.6 687.7,408.6 691.9,415.3 695.2,423.6 694.4,430.3 700.3,432.0 698.6,437.0 706.9,438.7 712.0,442.0 713.6,447.0 713.6,447.0 M713.6,447.0 713.6,447.0 706.9,452.1 698.6,455.4 690.2,460.4 683.5,463.8 679.4,467.1 679.4,467.1 M713.6,447.0 713.6,447.0 722.0,445.4 730.4,448.7 737.0,450.4 745.4,450.1 745.3,450.2 M679.4,467.1 679.4,467.1 681.9,473.8 678.5,480.5 676.9,485.0 677.7,485.0 681.9,491.7 685.2,496.8 686.9,501.8 686.9,501.8 M749.3,417.0 750.1,416.9 757.1,413.6 763.8,408.6 768.0,408.6 768.8,413.6 775.5,418.6 782.2,421.1 790.6,422.0 797.2,421.1 800.6,425.3 807.3,427.0 810.6,430.3 810.6,430.3 M810.6,430.3 810.6,430.3 814.0,425.3 814.8,416.9 819.0,408.6 819.0,408.6 M810.6,430.3 810.6,430.3 814.0,438.7 817.3,447.0 820.7,457.1 823.2,465.4 822.3,473.8 822.3,473.8 M822.3,473.8 822.3,473.8 814.0,475.5 805.6,477.1 798.9,472.1 790.6,473.0 783.9,476.3 777.2,477.1 777.2,477.1 M777.2,477.1 777.2,477.1 773.8,479.7 770.5,475.5 762.1,473.8 755.4,468.8 748.8,467.9 745.4,468.8 745.4,468.8 M777.2,477.1 777.2,477.1 780.5,480.5 783.9,485.0 787.2,491.7 790.6,500.1 791.4,506.8 791.4,506.8 M822.3,473.8 822.3,473.8 829.0,472.1 837.4,475.5 845.7,477.1 850.8,480.5 854.1,485.0 851.6,484.7 851.6,484.7 M844.1,411.9 844.1,412.3 840.7,420.3 842.4,428.7 845.7,437.0 844.1,445.4 850.8,452.1 857.4,458.8 864.1,463.8 866.7,464.6 866.7,464.6 M867.5,410.3 867.5,410.6 865.8,420.3 869.1,430.3 874.2,437.0 876.0,440.4 883.4,438.7 886.0,441.2 886.0,441.2 M889.3,347.6 889.3,347.6 891.8,355.1 894.3,360.1 892.6,363.4 896.8,371.8 895.1,380.2 897.7,386.9 893.8,391.5 892.7,392.0 M886.0,441.2 886.0,441.2 891.8,437.0 896.8,433.7 901.8,438.7 906.9,445.4 912.7,450.4 912.7,450.4 M912.7,450.4 912.7,450.4 916.9,445.4 920.2,437.0 921.9,428.7 921.1,420.3 921.9,415.3 928.1,411.1 928.1,411.1 M921.9,428.7 921.9,428.7 924.4,433.7 930.3,437.0 933.6,440.4 940.3,439.5 943.6,443.7 950.3,442.0 953.7,435.3 957.0,428.7 960.4,427.8 962.0,432.0 967.0,433.7 970.4,438.7 974.6,435.3 974.6,435.3 M912.7,450.4 912.7,450.4 918.6,458.8 921.9,463.8 926.9,465.4 930.3,462.1 935.3,463.8 940.3,467.1 942.0,473.8 941.1,480.5 943.6,485.0 947.0,490.1 947.0,490.1 M886.0,441.2 886.0,441.2 883.4,447.0 876.8,453.7 870.1,458.8 866.7,464.6 866.7,464.6 M866.7,464.6 866.7,464.6 867.6,473.8 867.6,473.8 M867.6,473.8 867.6,473.8 860.0,479.7 850.0,483.0 851.6,484.7 851.6,484.7 M867.6,473.8 867.6,473.8 870.9,478.0 870.9,478.0 M870.9,478.0 870.9,478.0 870.1,485.0 870.9,478.0 871.7,485.0 873.4,491.7 875.1,503.4 870.9,515.1 869.2,526.9 866.7,536.9 865.0,546.9 864.2,554.9 864.1,555.3 M870.9,478.0 870.9,478.0 878.4,477.1 885.1,475.5 887.6,480.5 890.1,485.0 891.0,490.1 898.5,495.1 905.2,493.4 907.7,501.8 908.5,511.8 916.9,516.8 925.2,522.7 925.2,522.7 M607.4,422.6 607.4,422.6 612.4,416.7 620.8,414.2 624.6,413.0 624.6,413.0 M607.4,422.6 607.4,422.6 608.2,428.4 605.7,435.1 600.7,437.6 592.3,436.8 589.8,446.8 595.7,453.5 598.2,461.9 596.5,470.2 602.4,474.4 609.0,480.3 610.7,483.6 607.4,488.6 607.4,488.6 M571.2,471.5 571.9,471.1 580.6,471.9 587.3,476.9 590.7,483.6 597.3,488.6 604.0,491.1 607.4,488.6 607.4,488.6 M607.4,488.6 607.4,488.6 612.4,492.0 610.7,500.3 609.0,507.0 614.1,511.2 620.8,512.0 624.1,510.4 623.3,517.0 623.3,517.0 M623.3,517.0 623.3,517.0 627.4,523.7 635.8,525.4 646.0,523.7 653.4,525.2 656.0,530.2 662.6,537.7 663.0,537.9 M623.3,517.0 623.3,517.0 617.4,520.4 614.1,525.4 615.7,530.4 609.0,533.8 607.4,540.5 605.7,547.1 602.4,548.0 601.3,555.0 596.8,555.9 596.8,555.9 M537.1,533.8 537.1,533.8 545.5,530.4 550.5,535.4 557.2,537.9 563.9,538.8 570.6,538.8 573.9,543.8 580.6,548.8 584.8,555.0 592.1,557.6 596.8,555.9 596.8,555.9 M851.6,484.7 851.6,484.7 845.7,491.7 844.1,500.1 837.4,506.8 829.0,511.8 823.2,518.5 819.8,520.2 819.8,520.2 M727.9,529.4 727.9,529.4 722.0,533.5 715.3,536.9 710.3,543.6 711.1,550.3 712.8,556.9 712.8,556.9 M712.8,556.9 712.8,556.9 706.9,555.3 700.3,558.6 693.6,560.3 686.9,556.9 680.2,560.3 676.9,556.9 670.2,550.3 663.5,546.1 663.1,545.8 M712.8,556.9 712.8,556.9 712.0,562.0 712.8,566.1 712.8,566.1 M712.8,566.1 712.8,566.1 706.9,568.7 698.6,570.3 695.2,577.0 691.9,583.7 691.9,583.7 M712.8,566.1 712.8,566.1 723.7,565.3 733.7,572.0 742.1,580.4 747.1,590.4 752.1,598.8 760.5,602.1 768.0,603.8 768.0,603.8 M768.0,603.8 768.0,603.8 773.8,602.1 775.5,597.1 783.9,593.7 792.2,590.4 795.6,585.4 795.6,585.4 M795.6,585.4 795.6,585.4 793.9,580.4 797.2,577.0 790.6,572.0 790.6,572.0 M790.6,572.0 790.6,572.0 787.2,565.3 782.2,560.3 780.5,551.9 777.2,543.6 776.3,535.2 771.3,528.5 771.3,528.5 M790.6,572.0 790.6,572.0 798.9,570.3 807.3,571.2 814.0,568.7 822.3,570.3 824.8,565.3 824.0,556.9 825.7,550.3 830.7,551.9 830.7,551.9 M795.6,585.4 795.6,585.4 802.3,590.4 808.9,587.0 814.0,583.7 819.0,587.0 827.3,592.1 835.7,598.8 839.0,603.8 837.4,610.5 835.4,615.8 835.2,615.2 M768.0,603.8 768.0,603.8 763.8,608.8 757.1,610.5 752.1,613.8 750.4,620.5 752.1,625.0 748.7,625.2 748.7,625.2 M646.8,568.7 646.8,568.7 650.1,578.7 653.4,587.0 656.0,594.6 661.8,600.4 666.8,608.8 668.5,613.8 661.8,620.5 660.1,625.0 657.3,626.9 647.3,625.3 638.9,628.6 632.3,631.1 632.3,631.1 M656.0,594.6 656.0,594.6 663.5,593.7 670.2,595.4 676.9,590.4 685.2,588.7 691.9,583.7 691.9,583.7 M691.9,583.7 691.9,583.7 693.6,592.1 698.6,602.1 701.9,608.8 708.6,613.8 715.3,618.8 717.0,625.0 716.9,625.2 716.9,625.2 M988.8,520.2 988.8,520.2 982.1,526.9 975.4,535.2 970.4,538.6 963.7,537.7 957.0,533.5 952.0,538.6 950.3,543.6 947.0,536.9 942.0,538.6 936.9,545.2 933.6,553.6 930.3,555.3 931.9,560.3 923.6,561.1 921.9,560.3 921.9,560.3 M987.1,543.6 987.1,543.6 982.1,550.3 978.8,556.9 982.1,565.3 983.8,572.0 988.8,575.3 992.1,577.9 985.4,580.4 980.4,585.4 977.9,589.6 977.9,589.6 M977.9,589.6 977.9,589.6 983.8,593.7 985.4,600.4 992.1,603.8 993.0,608.8 995.5,612.1 995.5,612.1 M977.9,589.6 977.9,589.6 970.4,589.6 963.7,593.7 957.0,592.1 952.0,590.4 947.0,595.4 942.0,598.8 936.9,597.1 929.4,597.1 929.4,597.1 M911.9,566.1 911.9,566.1 913.5,573.7 916.9,580.4 918.6,587.0 923.6,592.1 929.4,597.1 929.4,597.1 M929.4,597.1 929.4,597.1 923.6,602.1 916.9,602.9 908.5,600.4 900.2,598.8 893.5,597.1 886.8,592.1 881.8,587.0 873.4,584.5 869.2,585.0 868.0,584.1 M929.4,597.1 929.4,597.1 926.9,603.8 925.2,610.5 926.9,617.1 927.8,625.0 925.3,630.2 929.5,633.5 926.1,641.0 926.1,641.0 M596.8,555.9 596.8,555.9 597.1,561.7 603.8,563.4 611.4,566.8 608.9,571.8 607.2,577.6 607.5,578.4 M516.9,604.4 516.9,604.4 521.9,608.6 530.3,606.9 536.9,606.0 542.0,609.4 550.3,606.9 558.7,605.2 565.4,608.6 573.7,606.0 582.1,607.7 587.4,606.5 588.2,604.9 M597.3,609.3 598.8,608.9 603.8,613.6 608.9,620.3 615.5,625.3 623.9,628.6 632.3,631.1 632.3,631.1 M632.3,631.1 632.3,631.1 628.9,638.7 625.6,645.3 630.6,650.4 635.6,655.4 633.9,662.1 627.2,667.1 624.7,673.8 623.9,678.8 623.9,678.8 M647.3,672.1 647.3,672.1 646.5,663.7 650.7,658.7 657.3,655.4 658.2,648.7 665.7,646.2 670.7,647.0 669.0,642.0 675.7,638.7 674.9,634.5 679.9,633.3 683.3,637.0 680.8,640.3 687.4,639.5 695.8,637.0 700.8,635.3 697.7,636.9 697.7,636.9 M748.7,625.2 748.7,625.2 747.0,630.2 753.7,635.2 760.4,636.9 767.1,634.4 773.8,634.4 778.8,638.6 786.3,641.9 786.3,641.9 M748.7,625.2 748.7,625.2 740.3,624.3 730.3,624.3 720.3,626.9 716.9,625.2 716.9,625.2 M716.9,625.2 716.9,625.2 710.2,626.9 705.2,628.5 697.7,636.9 697.7,636.9 M697.7,636.9 697.7,636.9 700.2,643.6 708.6,646.9 711.9,653.6 712.7,663.6 706.9,670.3 710.2,677.0 716.9,680.4 723.6,683.7 723.6,683.7 M723.6,683.7 723.6,683.7 732.0,680.4 733.6,673.7 742.0,671.2 750.4,670.3 757.0,671.2 765.4,666.1 772.1,670.3 775.4,671.2 775.4,671.2 M723.6,683.7 723.6,683.7 715.2,687.0 706.9,690.4 700.2,692.9 700.2,692.9 M1099.6,688.0 1099.6,688.0 1106.1,689.6 1114.1,692.0 1119.0,695.2 1125.5,699.3 1130.3,704.1 1135.2,710.6 1140.0,712.2 1141.7,717.1 1143.3,721.9 1144.9,725.2 1148.9,726.0 1153.8,722.3 1153.8,722.3" fill="none" stroke="#2b2826" stroke-width="1.35" stroke-linejoin="round" stroke-linecap="round"/>
<path d="M697.8,123.6 697.8,123.6 703.6,128.6 710.3,136.9 712.8,143.6 712.0,148.7 711.1,157.0 712.0,165.4 712.8,173.7 713.6,182.1 711.1,188.8 708.6,192.1 701.9,197.1 700.3,205.0 700.3,208.4 700.3,208.4 M711.1,188.8 711.1,188.8 720.3,188.8 728.7,187.9 737.0,188.8 743.7,193.0 752.1,195.5 758.8,198.0 765.5,197.1 776.3,194.6 780.5,197.1 783.0,205.0 785.5,205.0 792.2,211.7 794.7,215.1 794.7,215.1 M829.0,132.8 829.0,132.8 828.2,143.6 824.8,153.7 822.3,163.7 820.7,173.7 812.3,176.2 803.9,179.6 806.4,188.8 802.3,193.8 803.1,205.0 799.8,208.4 794.7,215.1 794.7,215.1 M550.5,219.8 550.5,219.8 552.2,225.3 557.2,232.0 563.9,227.0 571.4,230.4 573.1,231.2 573.1,231.2 M573.1,231.2 573.1,231.2 573.9,240.4 572.3,250.4 573.1,262.1 567.2,268.8 564.7,275.0 563.9,275.0 560.6,282.6 557.2,280.1 548.9,278.4 540.5,284.2 532.1,285.1 523.8,285.9 517.1,287.6 514.6,297.6 507.0,297.6 505.4,300.1 497.0,301.0 497.0,301.0 M573.1,231.2 573.1,231.2 580.6,231.2 585.6,233.7 590.7,237.0 599.0,233.7 607.4,232.9 615.7,230.4 619.1,235.4 621.6,238.7 628.4,240.2 640.1,237.7 643.4,241.8 645.1,248.5 653.4,254.4 660.1,256.0 663.8,258.9 663.8,258.9 M663.8,258.9 663.8,258.9 663.5,251.9 668.5,246.9 671.8,238.5 668.5,231.8 666.8,223.4 675.2,220.9 683.5,218.4 691.9,217.6 695.2,211.7 700.3,208.4 700.3,208.4 M700.3,208.4 700.3,208.4 703.6,215.1 704.4,223.4 708.6,230.1 713.6,238.5 717.0,241.8 721.2,246.0 723.7,253.5 730.4,252.7 737.0,251.9 743.7,253.5 747.1,261.9 750.4,266.1 758.8,266.1 765.5,264.4 772.2,263.6 772.2,263.6 M772.2,263.6 772.2,263.6 773.0,256.9 775.5,251.0 783.9,249.4 792.2,247.7 792.2,247.7 M792.2,247.7 792.2,247.7 794.7,238.5 793.9,231.8 795.6,228.5 792.2,221.8 794.7,215.1 794.7,215.1 M772.2,263.6 772.2,263.6 776.3,270.3 777.2,278.6 773.0,285.3 772.2,292.0 765.5,295.3 768.8,303.7 770.5,308.7 764.6,311.2 767.1,318.8 768.8,327.1 772.2,335.5 773.0,345.0 774.7,351.7 775.5,360.1 772.2,366.8 772.2,366.8 M792.2,247.7 792.2,247.7 797.2,251.9 802.3,260.2 808.9,266.9 815.6,273.6 819.0,280.3 827.3,280.3 834.0,278.6 840.7,276.9 850.8,273.6 857.4,272.8 861.6,273.6 865.8,280.3 870.8,288.7 874.2,295.3 876.0,297.0 880.1,300.4 886.0,303.7 891.8,299.5 898.5,295.3 905.2,293.7 907.7,288.7 911.9,283.6 914.4,276.9 921.9,272.8 926.9,270.3 931.9,275.3 938.6,273.6 943.6,276.9 950.3,274.4 957.0,276.9 962.0,282.0 967.0,285.3 972.1,290.3 972.9,296.2 977.1,298.7 980.4,303.7 982.1,305.4 982.1,305.4 M663.8,258.9 663.8,258.9 666.0,266.1 664.3,273.6 661.0,283.6 654.3,292.8 648.4,297.0 640.1,304.5 634.2,303.7 631.7,310.4 628.4,318.8 625.0,328.8 623.3,333.8 622.4,335.2 614.1,340.3 607.4,338.6 597.3,339.4 589.0,341.9 580.6,344.4 573.1,343.6 573.1,343.6 M622.4,335.2 622.4,335.2 627.4,338.6 630.8,345.3 635.8,350.3 646.0,352.0 651.8,351.7 656.8,358.4 661.8,366.8 665.1,373.5 670.2,381.8 676.9,388.5 680.2,394.4 686.9,396.0 693.6,394.4 700.3,392.7 708.6,392.7 717.0,393.5 727.0,393.5 734.5,394.4 734.5,394.4 M573.1,343.6 573.1,343.6 576.4,350.3 580.6,358.7 582.3,367.0 584.8,375.4 584.0,383.7 585.6,390.4 578.9,394.6 570.6,393.8 562.2,390.4 556.4,393.8 556.4,393.8 M734.5,394.4 734.5,394.4 737.0,388.5 743.7,386.9 750.4,383.5 752.1,378.5 757.1,371.8 763.8,370.1 772.2,366.8 772.2,366.8 M772.2,366.8 772.2,366.8 778.9,371.8 785.5,375.1 792.2,373.5 797.2,376.0 803.9,372.6 808.9,378.5 815.6,385.2 822.3,391.9 820.7,400.2 819.0,408.6 829.0,412.8 844.1,411.9 849.1,404.4 857.4,403.6 862.5,408.6 867.5,410.3 870.0,396.9 872.5,388.5 876.0,387.7 878.4,386.9 885.1,386.0 891.8,390.2 895.1,396.9 901.8,401.9 908.5,398.6 915.2,401.9 923.6,400.2 928.6,395.2 931.9,391.0 931.9,391.0 M734.5,394.4 734.5,394.4 737.0,400.2 743.7,405.2 748.8,413.6 750.4,423.6 747.1,432.0 740.4,438.7 742.1,445.4 745.4,450.4 744.6,458.8 745.4,468.8 737.0,475.5 732.0,485.0 730.4,486.7 727.0,495.1 722.0,501.8 722.0,501.8 M722.0,501.8 722.0,501.8 713.6,505.1 706.9,506.8 701.9,503.4 693.6,500.1 686.9,501.8 686.9,510.1 681.9,515.1 678.5,520.2 670.2,526.9 665.1,533.5 662.6,538.6 663.5,545.2 661.0,548.6 656.8,551.9 655.1,556.9 651.8,563.6 646.8,568.7 640.1,572.0 633.4,570.3 626.7,573.7 620.0,575.3 613.9,576.0 607.2,578.5 602.2,576.8 597.1,580.1 592.1,581.8 591.3,588.5 592.1,593.5 588.8,598.5 587.1,604.4 592.1,606.9 597.1,608.6 598.8,615.2 598.0,623.6 598.8,630.3 593.8,637.0 590.5,643.7 583.8,650.4 580.4,657.0 579.1,664.6 579.0,664.7 M722.0,501.8 722.0,501.8 725.3,511.8 727.0,521.8 727.9,529.4 735.4,527.7 743.7,528.5 747.1,521.8 752.1,515.1 757.1,509.3 762.1,513.5 765.5,520.2 768.8,526.9 771.3,528.5 772.2,521.8 775.5,515.1 782.2,511.8 787.2,508.5 791.4,506.8 795.6,511.8 802.3,513.5 808.9,513.5 814.0,516.8 819.8,520.2 822.3,526.9 825.7,535.2 829.0,543.6 830.7,551.9 837.4,555.3 844.1,556.9 850.8,553.6 857.4,555.3 864.1,555.3 864.1,555.3 M864.1,555.3 864.1,555.3 867.5,560.3 870.8,567.0 874.2,573.7 870.8,580.4 865.8,587.0 864.1,595.4 859.1,602.1 854.1,603.8 850.8,610.5 844.1,617.1 842.4,625.0 842.3,622.2 842.3,622.2 M864.1,555.3 864.1,555.3 866.7,557.8 871.7,560.3 876.8,555.3 883.4,554.4 890.1,556.9 898.5,560.3 905.2,563.6 911.9,566.1 916.9,562.8 921.9,560.3 920.2,553.6 915.2,550.3 910.2,546.9 907.7,541.9 911.9,536.9 916.9,535.2 918.6,526.9 925.2,522.7 928.6,518.5 936.9,511.8 943.6,508.5 953.7,506.0 955.3,500.1 948.7,496.8 947.0,490.1 953.7,488.4 960.4,490.9 967.0,487.6 970.1,486.7 970.4,486.7 M877.6,553.6 875.9,549.4 880.9,544.4 886.0,547.8 882.6,553.6 877.6,553.6" fill="none" stroke="#1c1a19" stroke-width="2.6" stroke-linejoin="round" stroke-linecap="round"/>
<polygon points="149.2,806.8 155.1,809.2 161.0,813.9 163.4,817.5 170.5,813.9 175.3,809.2 175.9,804.4 172.3,800.9 171.7,795.5 175.3,791.4 179.4,788.8 183.6,791.4 187.2,795.5 186.6,803.2 188.9,806.8 195.5,810.4 202.0,812.7 202.6,819.3 196.6,820.4 188.3,823.4 180.0,825.8 174.1,824.0 167.0,822.2 167.0,829.3 169.3,836.5 170.5,842.4 165.8,848.3 162.2,852.5 157.5,853.7 152.7,854.9 148.0,848.3 145.0,840.0 143.8,829.3 142.6,821.0 140.9,815.1 143.8,809.2" fill="#fef0d9" stroke="#f6dccf" stroke-width="0.6"/>
<polygon points="200.2,848.3 205.0,850.1 209.7,856.1 207.9,861.4 200.8,864.4 196.6,862.0 194.3,855.5 197.2,850.7" fill="#fef0d9" stroke="#f6dccf" stroke-width="0.6"/>
<polygon points="440.4,796.1 443.9,790.8 454.6,788.4 464.1,793.1 471.2,795.5 478.3,805.6 487.8,816.3 489.6,823.4 495.0,832.9 501.5,838.8 503.3,850.7 503.3,858.4 496.1,863.8 492.6,860.2 487.8,853.7 480.7,853.1 473.6,851.3 468.2,855.5 465.3,853.1 461.7,843.6 466.5,841.2 472.4,838.8 471.2,835.3 464.7,832.3 459.3,829.3 452.2,822.2 447.5,815.1 448.1,809.2 442.7,803.2" fill="#fef0d9" stroke="#f6dccf" stroke-width="0.6"/>
<polygon points="749.9,788.4 757.0,791.4 764.1,793.1 771.2,794.9 778.3,800.9 785.5,806.8 791.4,810.9 794.4,810.9 796.7,816.3 798.5,822.2 795.0,827.0 791.4,834.1 786.6,841.2 783.1,847.2 779.5,855.5 776.0,859.0 772.4,862.6 766.5,862.0 761.7,861.4 757.0,859.0 752.2,860.8 747.5,864.4 741.5,863.2 737.4,860.2 741.5,856.6 745.1,850.7 746.9,843.6 748.7,836.5 747.5,830.5 742.7,823.4 740.4,815.1 739.8,805.6 743.9,798.5 748.7,793.1" fill="#fef0d9" stroke="#f6dccf" stroke-width="0.6"/>
<polygon points="1030.9,796.7 1037.5,795.5 1045.8,789.6 1054.1,788.4 1063.6,790.8 1074.3,792.0 1083.8,796.1 1087.3,802.0 1089.7,810.4 1094.5,817.5 1099.2,824.6 1105.1,828.2 1106.9,834.1 1103.9,842.4 1102.2,849.5 1103.9,856.6 1096.8,861.4 1088.5,862.6 1080.2,864.4 1070.7,861.4 1061.2,857.8 1051.7,853.1 1044.6,849.5 1037.5,846.0 1032.1,839.4 1031.5,831.7 1026.8,823.4 1021.5,813.9 1030.9,808.0" fill="#fef0d9" stroke="#f6dccf" stroke-width="0.6"/>
<polygon points="1351.1,788.8 1354.7,794.9 1358.8,801.5 1375.5,801.5 1380.8,806.8 1382.6,815.1 1377.8,822.2 1373.1,828.2 1376.6,836.5 1376.1,840.0 1370.7,847.2 1366.0,853.1 1364.8,863.8 1360.0,861.4 1352.3,856.6 1352.9,850.7 1354.7,847.2 1357.7,848.3 1361.2,840.0 1356.5,835.3 1352.3,830.5 1353.5,822.2 1352.3,811.5 1345.8,805.6 1338.7,799.7 1345.8,793.1" fill="#fef0d9" stroke="#f6dccf" stroke-width="0.6"/>
<polygon points="456.9,301.8 460.2,303.1 466.1,308.2 465.6,310.2 461.1,309.5 457.7,306.2" fill="#fdcc8a" stroke="#f3c594" stroke-width="0.6"/>
<polygon points="501.2,334.4 505.4,336.1 506.6,339.4 503.7,338.9" fill="#fef0d9" stroke="#f6dccf" stroke-width="0.6"/>
<polygon points="494.5,355.7 497.9,356.2 499.0,358.7 495.7,358.3" fill="#fef0d9" stroke="#f6dccf" stroke-width="0.6"/>
<polygon points="533.8,396.3 540.5,399.3 548.0,403.5 545.9,404.8 538.8,402.5 534.1,399.1" fill="#fef0d9" stroke="#f6dccf" stroke-width="0.6"/>
<polygon points="540.5,413.4 545.5,418.1 550.5,425.1 553.4,430.9 550.0,432.1 544.7,423.7 541.0,417.6" fill="#fef0d9" stroke="#f6dccf" stroke-width="0.6"/>
<rect x="85.5" y="360.5" width="130" height="201" fill="#fff" stroke="#f1f1f1" stroke-width="1"/>
<g id="legend" stroke="#222" stroke-width="0.8">
<rect x="105.3" y="394.4" width="42" height="27.6" fill="#fef0d9"/>
<rect x="105.3" y="422" width="42" height="27.6" fill="#fdcc8a"/>
<rect x="105.3" y="449.6" width="42" height="27.6" fill="#fc8d59"/>
<rect x="105.3" y="477.2" width="42" height="27.6" fill="#e34a33"/>
<rect x="105.3" y="504.8" width="42" height="27.6" fill="#b30000"/>
</g>
<g font-family="DejaVu Sans, Liberation Sans, sans-serif" font-size="19.6" fill="#1a1a1a">
<text x="163" y="401.5">0</text><text x="163" y="429">10</text><text x="163" y="456.5">20</text><text x="163" y="484">30</text><text x="163" y="511.5">40</text><text x="163" y="539">115</text>
</g>
</svg>
<h1>Covid-19 : nombre de morts pour 100 000 habitants</h1>
<div class="src">basemap from OpenStreetMap contributors (ODbl license)</div>
</body></html>
